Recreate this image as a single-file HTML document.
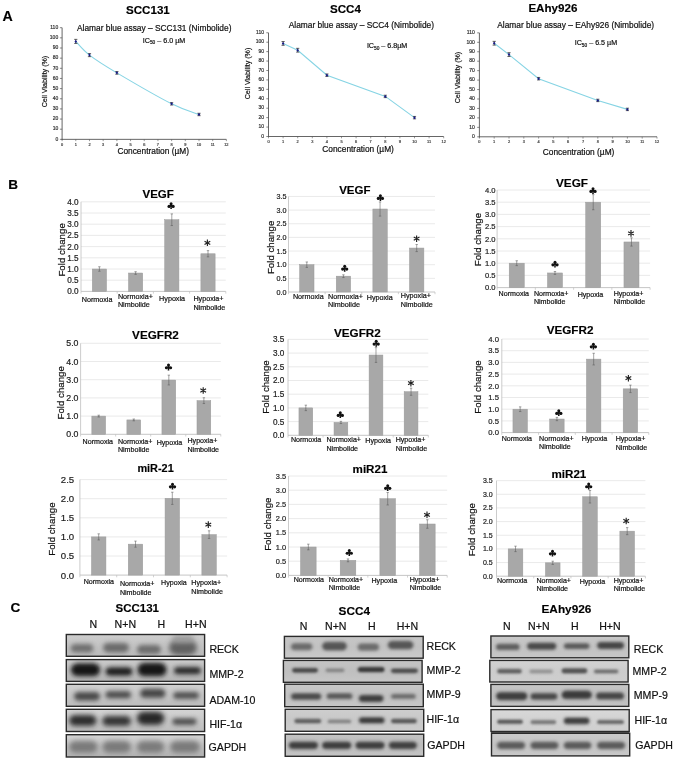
<!DOCTYPE html>
<html><head><meta charset="utf-8"><title>Figure</title>
<style>
html,body{margin:0;padding:0;background:#fff;}
body{width:675px;height:762px;overflow:hidden;}
svg text{font-family:"Liberation Sans",sans-serif;}
svg{will-change:transform}
</style></head>
<body>
<svg width="675" height="762" viewBox="0 0 675 762" style="display:block" font-family="Liberation Sans, sans-serif">
<rect width="675" height="762" fill="#fff"/>
<text x="2.60" y="20.60" font-size="14.2" font-weight="bold" stroke="#000" stroke-width="0.15">A</text>
<defs><filter id="b1" x="-30%" y="-60%" width="160%" height="220%"><feGaussianBlur stdDeviation="1.0"/></filter><filter id="b2" x="-30%" y="-80%" width="160%" height="260%"><feGaussianBlur stdDeviation="1.35"/></filter><filter id="b3" x="-30%" y="-100%" width="160%" height="300%"><feGaussianBlur stdDeviation="1.9"/></filter><filter id="b4" x="-30%" y="-100%" width="160%" height="300%"><feGaussianBlur stdDeviation="2.4"/></filter><linearGradient id="g1" x1="0" y1="0" x2="0" y2="1"><stop offset="0.00" stop-color="#cdcdcd"/><stop offset="0.50" stop-color="#c4c4c4"/><stop offset="1.00" stop-color="#bababa"/></linearGradient><linearGradient id="g2" x1="0" y1="0" x2="0" y2="1"><stop offset="0.00" stop-color="#cacaca"/><stop offset="0.50" stop-color="#bebebe"/><stop offset="1.00" stop-color="#b4b4b4"/></linearGradient><linearGradient id="g3" x1="0" y1="0" x2="0" y2="1"><stop offset="0.00" stop-color="#d0d0d0"/><stop offset="0.50" stop-color="#c6c6c6"/><stop offset="1.00" stop-color="#bcbcbc"/></linearGradient><linearGradient id="g4" x1="0" y1="0" x2="0" y2="1"><stop offset="0.00" stop-color="#d4d4d4"/><stop offset="0.50" stop-color="#c8c8c8"/><stop offset="1.00" stop-color="#bdbdbd"/></linearGradient><linearGradient id="g5" x1="0" y1="0" x2="0" y2="1"><stop offset="0.00" stop-color="#d6d6d6"/><stop offset="0.50" stop-color="#c2c2c2"/><stop offset="1.00" stop-color="#b2b2b2"/></linearGradient><linearGradient id="g6" x1="0" y1="0" x2="0" y2="1"><stop offset="0.00" stop-color="#c6c6c6"/><stop offset="0.50" stop-color="#c2c2c2"/><stop offset="1.00" stop-color="#cacaca"/></linearGradient><linearGradient id="g7" x1="0" y1="0" x2="0" y2="1"><stop offset="0.00" stop-color="#c4c4c4"/><stop offset="0.50" stop-color="#bfbfbf"/><stop offset="1.00" stop-color="#c6c6c6"/></linearGradient><linearGradient id="g8" x1="0" y1="0" x2="0" y2="1"><stop offset="0.00" stop-color="#c8c8c8"/><stop offset="0.50" stop-color="#c0c0c0"/><stop offset="1.00" stop-color="#c6c6c6"/></linearGradient><linearGradient id="g9" x1="0" y1="0" x2="0" y2="1"><stop offset="0.00" stop-color="#cecece"/><stop offset="0.50" stop-color="#c8c8c8"/><stop offset="1.00" stop-color="#cccccc"/></linearGradient><linearGradient id="g10" x1="0" y1="0" x2="0" y2="1"><stop offset="0.00" stop-color="#c4c4c4"/><stop offset="0.50" stop-color="#bcbcbc"/><stop offset="1.00" stop-color="#c4c4c4"/></linearGradient><linearGradient id="g11" x1="0" y1="0" x2="0" y2="1"><stop offset="0.00" stop-color="#c8c8c8"/><stop offset="0.50" stop-color="#c2c2c2"/><stop offset="1.00" stop-color="#c6c6c6"/></linearGradient><linearGradient id="g12" x1="0" y1="0" x2="0" y2="1"><stop offset="0.00" stop-color="#d2d2d2"/><stop offset="0.50" stop-color="#cccccc"/><stop offset="1.00" stop-color="#cecece"/></linearGradient><linearGradient id="g13" x1="0" y1="0" x2="0" y2="1"><stop offset="0.00" stop-color="#c6c6c6"/><stop offset="0.50" stop-color="#bebebe"/><stop offset="1.00" stop-color="#c2c2c2"/></linearGradient><linearGradient id="g14" x1="0" y1="0" x2="0" y2="1"><stop offset="0.00" stop-color="#d8d8d8"/><stop offset="0.50" stop-color="#d2d2d2"/><stop offset="1.00" stop-color="#cfcfcf"/></linearGradient><linearGradient id="g15" x1="0" y1="0" x2="0" y2="1"><stop offset="0.00" stop-color="#cacaca"/><stop offset="0.50" stop-color="#c4c4c4"/><stop offset="1.00" stop-color="#c8c8c8"/></linearGradient></defs>
<text x="8.20" y="188.80" font-size="13.6" font-weight="bold" stroke="#000" stroke-width="0.15">B</text>
<text x="10.60" y="611.60" font-size="13.6" font-weight="bold" stroke="#000" stroke-width="0.15">C</text>
<line x1="62.10" y1="27.70" x2="62.10" y2="139.85" stroke="#555" stroke-width="0.9"/>
<line x1="61.60" y1="139.35" x2="226.38" y2="139.35" stroke="#555" stroke-width="0.9"/>
<line x1="59.90" y1="139.35" x2="62.10" y2="139.35" stroke="#555" stroke-width="0.7"/>
<text x="58.20" y="140.60" font-size="5.0" stroke="#333" stroke-width="0.2" text-anchor="end" fill="#333">0</text>
<line x1="59.90" y1="129.20" x2="62.10" y2="129.20" stroke="#555" stroke-width="0.7"/>
<text x="58.20" y="130.45" font-size="5.0" stroke="#333" stroke-width="0.2" text-anchor="end" fill="#333">10</text>
<line x1="59.90" y1="119.05" x2="62.10" y2="119.05" stroke="#555" stroke-width="0.7"/>
<text x="58.20" y="120.30" font-size="5.0" stroke="#333" stroke-width="0.2" text-anchor="end" fill="#333">20</text>
<line x1="59.90" y1="108.90" x2="62.10" y2="108.90" stroke="#555" stroke-width="0.7"/>
<text x="58.20" y="110.15" font-size="5.0" stroke="#333" stroke-width="0.2" text-anchor="end" fill="#333">30</text>
<line x1="59.90" y1="98.75" x2="62.10" y2="98.75" stroke="#555" stroke-width="0.7"/>
<text x="58.20" y="100.00" font-size="5.0" stroke="#333" stroke-width="0.2" text-anchor="end" fill="#333">40</text>
<line x1="59.90" y1="88.60" x2="62.10" y2="88.60" stroke="#555" stroke-width="0.7"/>
<text x="58.20" y="89.85" font-size="5.0" stroke="#333" stroke-width="0.2" text-anchor="end" fill="#333">50</text>
<line x1="59.90" y1="78.45" x2="62.10" y2="78.45" stroke="#555" stroke-width="0.7"/>
<text x="58.20" y="79.70" font-size="5.0" stroke="#333" stroke-width="0.2" text-anchor="end" fill="#333">60</text>
<line x1="59.90" y1="68.30" x2="62.10" y2="68.30" stroke="#555" stroke-width="0.7"/>
<text x="58.20" y="69.55" font-size="5.0" stroke="#333" stroke-width="0.2" text-anchor="end" fill="#333">70</text>
<line x1="59.90" y1="58.15" x2="62.10" y2="58.15" stroke="#555" stroke-width="0.7"/>
<text x="58.20" y="59.40" font-size="5.0" stroke="#333" stroke-width="0.2" text-anchor="end" fill="#333">80</text>
<line x1="59.90" y1="48.00" x2="62.10" y2="48.00" stroke="#555" stroke-width="0.7"/>
<text x="58.20" y="49.25" font-size="5.0" stroke="#333" stroke-width="0.2" text-anchor="end" fill="#333">90</text>
<line x1="59.90" y1="37.85" x2="62.10" y2="37.85" stroke="#555" stroke-width="0.7"/>
<text x="58.20" y="39.10" font-size="5.0" stroke="#333" stroke-width="0.2" text-anchor="end" fill="#333">100</text>
<line x1="59.90" y1="27.70" x2="62.10" y2="27.70" stroke="#555" stroke-width="0.7"/>
<text x="58.20" y="28.95" font-size="5.0" stroke="#333" stroke-width="0.2" text-anchor="end" fill="#333">110</text>
<line x1="62.10" y1="139.35" x2="62.10" y2="141.15" stroke="#555" stroke-width="0.6"/>
<text x="62.10" y="145.75" font-size="3.9" stroke="#444" stroke-width="0.2" text-anchor="middle" fill="#444">0</text>
<line x1="75.79" y1="139.35" x2="75.79" y2="141.15" stroke="#555" stroke-width="0.6"/>
<text x="75.79" y="145.75" font-size="3.9" stroke="#444" stroke-width="0.2" text-anchor="middle" fill="#444">1</text>
<line x1="89.48" y1="139.35" x2="89.48" y2="141.15" stroke="#555" stroke-width="0.6"/>
<text x="89.48" y="145.75" font-size="3.9" stroke="#444" stroke-width="0.2" text-anchor="middle" fill="#444">2</text>
<line x1="103.17" y1="139.35" x2="103.17" y2="141.15" stroke="#555" stroke-width="0.6"/>
<text x="103.17" y="145.75" font-size="3.9" stroke="#444" stroke-width="0.2" text-anchor="middle" fill="#444">3</text>
<line x1="116.86" y1="139.35" x2="116.86" y2="141.15" stroke="#555" stroke-width="0.6"/>
<text x="116.86" y="145.75" font-size="3.9" stroke="#444" stroke-width="0.2" text-anchor="middle" fill="#444">4</text>
<line x1="130.55" y1="139.35" x2="130.55" y2="141.15" stroke="#555" stroke-width="0.6"/>
<text x="130.55" y="145.75" font-size="3.9" stroke="#444" stroke-width="0.2" text-anchor="middle" fill="#444">5</text>
<line x1="144.24" y1="139.35" x2="144.24" y2="141.15" stroke="#555" stroke-width="0.6"/>
<text x="144.24" y="145.75" font-size="3.9" stroke="#444" stroke-width="0.2" text-anchor="middle" fill="#444">6</text>
<line x1="157.93" y1="139.35" x2="157.93" y2="141.15" stroke="#555" stroke-width="0.6"/>
<text x="157.93" y="145.75" font-size="3.9" stroke="#444" stroke-width="0.2" text-anchor="middle" fill="#444">7</text>
<line x1="171.62" y1="139.35" x2="171.62" y2="141.15" stroke="#555" stroke-width="0.6"/>
<text x="171.62" y="145.75" font-size="3.9" stroke="#444" stroke-width="0.2" text-anchor="middle" fill="#444">8</text>
<line x1="185.31" y1="139.35" x2="185.31" y2="141.15" stroke="#555" stroke-width="0.6"/>
<text x="185.31" y="145.75" font-size="3.9" stroke="#444" stroke-width="0.2" text-anchor="middle" fill="#444">9</text>
<line x1="199.00" y1="139.35" x2="199.00" y2="141.15" stroke="#555" stroke-width="0.6"/>
<text x="199.00" y="145.75" font-size="3.9" stroke="#444" stroke-width="0.2" text-anchor="middle" fill="#444">10</text>
<line x1="212.69" y1="139.35" x2="212.69" y2="141.15" stroke="#555" stroke-width="0.6"/>
<text x="212.69" y="145.75" font-size="3.9" stroke="#444" stroke-width="0.2" text-anchor="middle" fill="#444">11</text>
<line x1="226.38" y1="139.35" x2="226.38" y2="141.15" stroke="#555" stroke-width="0.6"/>
<text x="226.38" y="145.75" font-size="3.9" stroke="#444" stroke-width="0.2" text-anchor="middle" fill="#444">12</text>
<path d="M75.79,41.40 C78.07,43.69 82.64,49.86 89.48,55.11 C96.33,60.35 103.17,64.75 116.86,72.87 C130.55,80.99 157.93,96.89 171.62,103.82 C185.31,110.76 194.44,112.71 199.00,114.48" fill="none" stroke="#86d4e4" stroke-width="1.1"/>
<line x1="75.79" y1="39.37" x2="75.79" y2="43.43" stroke="#222" stroke-width="0.7"/>
<line x1="74.19" y1="39.37" x2="77.39" y2="39.37" stroke="#222" stroke-width="0.7"/>
<line x1="74.19" y1="43.43" x2="77.39" y2="43.43" stroke="#222" stroke-width="0.7"/>
<path d="M75.79,39.90L77.09,41.40L75.79,42.90L74.49,41.40Z" fill="#1b1b8a"/>
<line x1="89.48" y1="53.58" x2="89.48" y2="56.63" stroke="#222" stroke-width="0.7"/>
<line x1="87.88" y1="53.58" x2="91.08" y2="53.58" stroke="#222" stroke-width="0.7"/>
<line x1="87.88" y1="56.63" x2="91.08" y2="56.63" stroke="#222" stroke-width="0.7"/>
<path d="M89.48,53.61L90.78,55.11L89.48,56.61L88.18,55.11Z" fill="#1b1b8a"/>
<line x1="116.86" y1="71.55" x2="116.86" y2="74.19" stroke="#222" stroke-width="0.7"/>
<line x1="115.26" y1="71.55" x2="118.46" y2="71.55" stroke="#222" stroke-width="0.7"/>
<line x1="115.26" y1="74.19" x2="118.46" y2="74.19" stroke="#222" stroke-width="0.7"/>
<path d="M116.86,71.37L118.16,72.87L116.86,74.37L115.56,72.87Z" fill="#1b1b8a"/>
<line x1="171.62" y1="102.62" x2="171.62" y2="105.02" stroke="#222" stroke-width="0.7"/>
<line x1="170.02" y1="102.62" x2="173.22" y2="102.62" stroke="#222" stroke-width="0.7"/>
<line x1="170.02" y1="105.02" x2="173.22" y2="105.02" stroke="#222" stroke-width="0.7"/>
<path d="M171.62,102.32L172.92,103.82L171.62,105.32L170.32,103.82Z" fill="#1b1b8a"/>
<line x1="199.00" y1="113.28" x2="199.00" y2="115.68" stroke="#222" stroke-width="0.7"/>
<line x1="197.40" y1="113.28" x2="200.60" y2="113.28" stroke="#222" stroke-width="0.7"/>
<line x1="197.40" y1="115.68" x2="200.60" y2="115.68" stroke="#222" stroke-width="0.7"/>
<path d="M199.00,112.98L200.30,114.48L199.00,115.98L197.70,114.48Z" fill="#1b1b8a"/>
<text x="126.00" y="14.20" font-size="11.6" font-weight="bold" stroke="#000" stroke-width="0.15">SCC131</text>
<text x="77.00" y="31.20" font-size="8.36" stroke="#111" stroke-width="0.2" fill="#111">Alamar blue assay – SCC131 (Nimbolide)</text>
<text x="142.80" y="42.80" font-size="7.15" fill="#111" stroke="#111" stroke-width="0.2">IC<tspan font-size="4.8" dy="1.6">50</tspan><tspan dy="-1.6"> – 6.0 µM</tspan></text>
<text x="0" y="0" font-size="7.1" stroke="#111" stroke-width="0.2" text-anchor="middle" fill="#111" transform="translate(47.13,81.60) rotate(-90)">Cell Viability (%)</text>
<text x="117.40" y="154.40" font-size="8.35" stroke="#111" stroke-width="0.2" fill="#111">Concentration (µM)</text>
<line x1="268.50" y1="32.77" x2="268.50" y2="137.00" stroke="#555" stroke-width="0.9"/>
<line x1="268.00" y1="136.50" x2="443.70" y2="136.50" stroke="#555" stroke-width="0.9"/>
<line x1="266.30" y1="136.50" x2="268.50" y2="136.50" stroke="#555" stroke-width="0.7"/>
<text x="264.00" y="137.75" font-size="5.0" stroke="#333" stroke-width="0.2" text-anchor="end" fill="#333">0</text>
<line x1="266.30" y1="127.07" x2="268.50" y2="127.07" stroke="#555" stroke-width="0.7"/>
<text x="264.00" y="128.32" font-size="5.0" stroke="#333" stroke-width="0.2" text-anchor="end" fill="#333">10</text>
<line x1="266.30" y1="117.64" x2="268.50" y2="117.64" stroke="#555" stroke-width="0.7"/>
<text x="264.00" y="118.89" font-size="5.0" stroke="#333" stroke-width="0.2" text-anchor="end" fill="#333">20</text>
<line x1="266.30" y1="108.21" x2="268.50" y2="108.21" stroke="#555" stroke-width="0.7"/>
<text x="264.00" y="109.46" font-size="5.0" stroke="#333" stroke-width="0.2" text-anchor="end" fill="#333">30</text>
<line x1="266.30" y1="98.78" x2="268.50" y2="98.78" stroke="#555" stroke-width="0.7"/>
<text x="264.00" y="100.03" font-size="5.0" stroke="#333" stroke-width="0.2" text-anchor="end" fill="#333">40</text>
<line x1="266.30" y1="89.35" x2="268.50" y2="89.35" stroke="#555" stroke-width="0.7"/>
<text x="264.00" y="90.60" font-size="5.0" stroke="#333" stroke-width="0.2" text-anchor="end" fill="#333">50</text>
<line x1="266.30" y1="79.92" x2="268.50" y2="79.92" stroke="#555" stroke-width="0.7"/>
<text x="264.00" y="81.17" font-size="5.0" stroke="#333" stroke-width="0.2" text-anchor="end" fill="#333">60</text>
<line x1="266.30" y1="70.49" x2="268.50" y2="70.49" stroke="#555" stroke-width="0.7"/>
<text x="264.00" y="71.74" font-size="5.0" stroke="#333" stroke-width="0.2" text-anchor="end" fill="#333">70</text>
<line x1="266.30" y1="61.06" x2="268.50" y2="61.06" stroke="#555" stroke-width="0.7"/>
<text x="264.00" y="62.31" font-size="5.0" stroke="#333" stroke-width="0.2" text-anchor="end" fill="#333">80</text>
<line x1="266.30" y1="51.63" x2="268.50" y2="51.63" stroke="#555" stroke-width="0.7"/>
<text x="264.00" y="52.88" font-size="5.0" stroke="#333" stroke-width="0.2" text-anchor="end" fill="#333">90</text>
<line x1="266.30" y1="42.20" x2="268.50" y2="42.20" stroke="#555" stroke-width="0.7"/>
<text x="264.00" y="43.45" font-size="5.0" stroke="#333" stroke-width="0.2" text-anchor="end" fill="#333">100</text>
<line x1="266.30" y1="32.77" x2="268.50" y2="32.77" stroke="#555" stroke-width="0.7"/>
<text x="264.00" y="34.02" font-size="5.0" stroke="#333" stroke-width="0.2" text-anchor="end" fill="#333">110</text>
<line x1="268.50" y1="136.50" x2="268.50" y2="138.30" stroke="#555" stroke-width="0.6"/>
<text x="268.50" y="142.90" font-size="3.9" stroke="#444" stroke-width="0.2" text-anchor="middle" fill="#444">0</text>
<line x1="283.10" y1="136.50" x2="283.10" y2="138.30" stroke="#555" stroke-width="0.6"/>
<text x="283.10" y="142.90" font-size="3.9" stroke="#444" stroke-width="0.2" text-anchor="middle" fill="#444">1</text>
<line x1="297.70" y1="136.50" x2="297.70" y2="138.30" stroke="#555" stroke-width="0.6"/>
<text x="297.70" y="142.90" font-size="3.9" stroke="#444" stroke-width="0.2" text-anchor="middle" fill="#444">2</text>
<line x1="312.30" y1="136.50" x2="312.30" y2="138.30" stroke="#555" stroke-width="0.6"/>
<text x="312.30" y="142.90" font-size="3.9" stroke="#444" stroke-width="0.2" text-anchor="middle" fill="#444">3</text>
<line x1="326.90" y1="136.50" x2="326.90" y2="138.30" stroke="#555" stroke-width="0.6"/>
<text x="326.90" y="142.90" font-size="3.9" stroke="#444" stroke-width="0.2" text-anchor="middle" fill="#444">4</text>
<line x1="341.50" y1="136.50" x2="341.50" y2="138.30" stroke="#555" stroke-width="0.6"/>
<text x="341.50" y="142.90" font-size="3.9" stroke="#444" stroke-width="0.2" text-anchor="middle" fill="#444">5</text>
<line x1="356.10" y1="136.50" x2="356.10" y2="138.30" stroke="#555" stroke-width="0.6"/>
<text x="356.10" y="142.90" font-size="3.9" stroke="#444" stroke-width="0.2" text-anchor="middle" fill="#444">6</text>
<line x1="370.70" y1="136.50" x2="370.70" y2="138.30" stroke="#555" stroke-width="0.6"/>
<text x="370.70" y="142.90" font-size="3.9" stroke="#444" stroke-width="0.2" text-anchor="middle" fill="#444">7</text>
<line x1="385.30" y1="136.50" x2="385.30" y2="138.30" stroke="#555" stroke-width="0.6"/>
<text x="385.30" y="142.90" font-size="3.9" stroke="#444" stroke-width="0.2" text-anchor="middle" fill="#444">8</text>
<line x1="399.90" y1="136.50" x2="399.90" y2="138.30" stroke="#555" stroke-width="0.6"/>
<text x="399.90" y="142.90" font-size="3.9" stroke="#444" stroke-width="0.2" text-anchor="middle" fill="#444">9</text>
<line x1="414.50" y1="136.50" x2="414.50" y2="138.30" stroke="#555" stroke-width="0.6"/>
<text x="414.50" y="142.90" font-size="3.9" stroke="#444" stroke-width="0.2" text-anchor="middle" fill="#444">10</text>
<line x1="429.10" y1="136.50" x2="429.10" y2="138.30" stroke="#555" stroke-width="0.6"/>
<text x="429.10" y="142.90" font-size="3.9" stroke="#444" stroke-width="0.2" text-anchor="middle" fill="#444">11</text>
<line x1="443.70" y1="136.50" x2="443.70" y2="138.30" stroke="#555" stroke-width="0.6"/>
<text x="443.70" y="142.90" font-size="3.9" stroke="#444" stroke-width="0.2" text-anchor="middle" fill="#444">12</text>
<polyline points="283.10,43.43 297.70,50.22 326.90,75.21 385.30,96.42 414.50,117.64" fill="none" stroke="#86d4e4" stroke-width="1.1"/>
<line x1="283.10" y1="41.54" x2="283.10" y2="45.31" stroke="#222" stroke-width="0.7"/>
<line x1="281.50" y1="41.54" x2="284.70" y2="41.54" stroke="#222" stroke-width="0.7"/>
<line x1="281.50" y1="45.31" x2="284.70" y2="45.31" stroke="#222" stroke-width="0.7"/>
<path d="M283.10,41.93L284.40,43.43L283.10,44.93L281.80,43.43Z" fill="#1b1b8a"/>
<line x1="297.70" y1="48.33" x2="297.70" y2="52.10" stroke="#222" stroke-width="0.7"/>
<line x1="296.10" y1="48.33" x2="299.30" y2="48.33" stroke="#222" stroke-width="0.7"/>
<line x1="296.10" y1="52.10" x2="299.30" y2="52.10" stroke="#222" stroke-width="0.7"/>
<path d="M297.70,48.72L299.00,50.22L297.70,51.72L296.40,50.22Z" fill="#1b1b8a"/>
<line x1="326.90" y1="73.98" x2="326.90" y2="76.43" stroke="#222" stroke-width="0.7"/>
<line x1="325.30" y1="73.98" x2="328.50" y2="73.98" stroke="#222" stroke-width="0.7"/>
<line x1="325.30" y1="76.43" x2="328.50" y2="76.43" stroke="#222" stroke-width="0.7"/>
<path d="M326.90,73.71L328.20,75.21L326.90,76.71L325.60,75.21Z" fill="#1b1b8a"/>
<line x1="385.30" y1="95.22" x2="385.30" y2="97.62" stroke="#222" stroke-width="0.7"/>
<line x1="383.70" y1="95.22" x2="386.90" y2="95.22" stroke="#222" stroke-width="0.7"/>
<line x1="383.70" y1="97.62" x2="386.90" y2="97.62" stroke="#222" stroke-width="0.7"/>
<path d="M385.30,94.92L386.60,96.42L385.30,97.92L384.00,96.42Z" fill="#1b1b8a"/>
<line x1="414.50" y1="116.44" x2="414.50" y2="118.84" stroke="#222" stroke-width="0.7"/>
<line x1="412.90" y1="116.44" x2="416.10" y2="116.44" stroke="#222" stroke-width="0.7"/>
<line x1="412.90" y1="118.84" x2="416.10" y2="118.84" stroke="#222" stroke-width="0.7"/>
<path d="M414.50,116.14L415.80,117.64L414.50,119.14L413.20,117.64Z" fill="#1b1b8a"/>
<text x="330.00" y="13.00" font-size="11.6" font-weight="bold" stroke="#000" stroke-width="0.15">SCC4</text>
<text x="288.80" y="28.20" font-size="8.36" stroke="#111" stroke-width="0.2" fill="#111">Alamar blue assay – SCC4 (Nimbolide)</text>
<text x="366.90" y="48.10" font-size="7.15" fill="#111" stroke="#111" stroke-width="0.2">IC<tspan font-size="4.8" dy="1.6">50</tspan><tspan dy="-1.6"> – 6.8µM</tspan></text>
<text x="0" y="0" font-size="7.1" stroke="#111" stroke-width="0.2" text-anchor="middle" fill="#111" transform="translate(250.03,73.50) rotate(-90)">Cell Viability (%)</text>
<text x="322.30" y="152.40" font-size="8.35" stroke="#111" stroke-width="0.2" fill="#111">Concentration (µM)</text>
<line x1="479.40" y1="32.85" x2="479.40" y2="137.30" stroke="#555" stroke-width="0.9"/>
<line x1="478.90" y1="136.80" x2="657.00" y2="136.80" stroke="#555" stroke-width="0.9"/>
<line x1="477.20" y1="136.80" x2="479.40" y2="136.80" stroke="#555" stroke-width="0.7"/>
<text x="474.80" y="138.05" font-size="5.0" stroke="#333" stroke-width="0.2" text-anchor="end" fill="#333">0</text>
<line x1="477.20" y1="127.35" x2="479.40" y2="127.35" stroke="#555" stroke-width="0.7"/>
<text x="474.80" y="128.60" font-size="5.0" stroke="#333" stroke-width="0.2" text-anchor="end" fill="#333">10</text>
<line x1="477.20" y1="117.90" x2="479.40" y2="117.90" stroke="#555" stroke-width="0.7"/>
<text x="474.80" y="119.15" font-size="5.0" stroke="#333" stroke-width="0.2" text-anchor="end" fill="#333">20</text>
<line x1="477.20" y1="108.45" x2="479.40" y2="108.45" stroke="#555" stroke-width="0.7"/>
<text x="474.80" y="109.70" font-size="5.0" stroke="#333" stroke-width="0.2" text-anchor="end" fill="#333">30</text>
<line x1="477.20" y1="99.00" x2="479.40" y2="99.00" stroke="#555" stroke-width="0.7"/>
<text x="474.80" y="100.25" font-size="5.0" stroke="#333" stroke-width="0.2" text-anchor="end" fill="#333">40</text>
<line x1="477.20" y1="89.55" x2="479.40" y2="89.55" stroke="#555" stroke-width="0.7"/>
<text x="474.80" y="90.80" font-size="5.0" stroke="#333" stroke-width="0.2" text-anchor="end" fill="#333">50</text>
<line x1="477.20" y1="80.10" x2="479.40" y2="80.10" stroke="#555" stroke-width="0.7"/>
<text x="474.80" y="81.35" font-size="5.0" stroke="#333" stroke-width="0.2" text-anchor="end" fill="#333">60</text>
<line x1="477.20" y1="70.65" x2="479.40" y2="70.65" stroke="#555" stroke-width="0.7"/>
<text x="474.80" y="71.90" font-size="5.0" stroke="#333" stroke-width="0.2" text-anchor="end" fill="#333">70</text>
<line x1="477.20" y1="61.20" x2="479.40" y2="61.20" stroke="#555" stroke-width="0.7"/>
<text x="474.80" y="62.45" font-size="5.0" stroke="#333" stroke-width="0.2" text-anchor="end" fill="#333">80</text>
<line x1="477.20" y1="51.75" x2="479.40" y2="51.75" stroke="#555" stroke-width="0.7"/>
<text x="474.80" y="53.00" font-size="5.0" stroke="#333" stroke-width="0.2" text-anchor="end" fill="#333">90</text>
<line x1="477.20" y1="42.30" x2="479.40" y2="42.30" stroke="#555" stroke-width="0.7"/>
<text x="474.80" y="43.55" font-size="5.0" stroke="#333" stroke-width="0.2" text-anchor="end" fill="#333">100</text>
<line x1="477.20" y1="32.85" x2="479.40" y2="32.85" stroke="#555" stroke-width="0.7"/>
<text x="474.80" y="34.10" font-size="5.0" stroke="#333" stroke-width="0.2" text-anchor="end" fill="#333">110</text>
<line x1="479.40" y1="136.80" x2="479.40" y2="138.60" stroke="#555" stroke-width="0.6"/>
<text x="479.40" y="143.20" font-size="3.9" stroke="#444" stroke-width="0.2" text-anchor="middle" fill="#444">0</text>
<line x1="494.20" y1="136.80" x2="494.20" y2="138.60" stroke="#555" stroke-width="0.6"/>
<text x="494.20" y="143.20" font-size="3.9" stroke="#444" stroke-width="0.2" text-anchor="middle" fill="#444">1</text>
<line x1="509.00" y1="136.80" x2="509.00" y2="138.60" stroke="#555" stroke-width="0.6"/>
<text x="509.00" y="143.20" font-size="3.9" stroke="#444" stroke-width="0.2" text-anchor="middle" fill="#444">2</text>
<line x1="523.80" y1="136.80" x2="523.80" y2="138.60" stroke="#555" stroke-width="0.6"/>
<text x="523.80" y="143.20" font-size="3.9" stroke="#444" stroke-width="0.2" text-anchor="middle" fill="#444">3</text>
<line x1="538.60" y1="136.80" x2="538.60" y2="138.60" stroke="#555" stroke-width="0.6"/>
<text x="538.60" y="143.20" font-size="3.9" stroke="#444" stroke-width="0.2" text-anchor="middle" fill="#444">4</text>
<line x1="553.40" y1="136.80" x2="553.40" y2="138.60" stroke="#555" stroke-width="0.6"/>
<text x="553.40" y="143.20" font-size="3.9" stroke="#444" stroke-width="0.2" text-anchor="middle" fill="#444">5</text>
<line x1="568.20" y1="136.80" x2="568.20" y2="138.60" stroke="#555" stroke-width="0.6"/>
<text x="568.20" y="143.20" font-size="3.9" stroke="#444" stroke-width="0.2" text-anchor="middle" fill="#444">6</text>
<line x1="583.00" y1="136.80" x2="583.00" y2="138.60" stroke="#555" stroke-width="0.6"/>
<text x="583.00" y="143.20" font-size="3.9" stroke="#444" stroke-width="0.2" text-anchor="middle" fill="#444">7</text>
<line x1="597.80" y1="136.80" x2="597.80" y2="138.60" stroke="#555" stroke-width="0.6"/>
<text x="597.80" y="143.20" font-size="3.9" stroke="#444" stroke-width="0.2" text-anchor="middle" fill="#444">8</text>
<line x1="612.60" y1="136.80" x2="612.60" y2="138.60" stroke="#555" stroke-width="0.6"/>
<text x="612.60" y="143.20" font-size="3.9" stroke="#444" stroke-width="0.2" text-anchor="middle" fill="#444">9</text>
<line x1="627.40" y1="136.80" x2="627.40" y2="138.60" stroke="#555" stroke-width="0.6"/>
<text x="627.40" y="143.20" font-size="3.9" stroke="#444" stroke-width="0.2" text-anchor="middle" fill="#444">10</text>
<line x1="642.20" y1="136.80" x2="642.20" y2="138.60" stroke="#555" stroke-width="0.6"/>
<text x="642.20" y="143.20" font-size="3.9" stroke="#444" stroke-width="0.2" text-anchor="middle" fill="#444">11</text>
<line x1="657.00" y1="136.80" x2="657.00" y2="138.60" stroke="#555" stroke-width="0.6"/>
<text x="657.00" y="143.20" font-size="3.9" stroke="#444" stroke-width="0.2" text-anchor="middle" fill="#444">12</text>
<polyline points="494.20,43.25 509.00,54.59 538.60,78.68 597.80,100.42 627.40,109.40" fill="none" stroke="#86d4e4" stroke-width="1.1"/>
<line x1="494.20" y1="41.36" x2="494.20" y2="45.14" stroke="#222" stroke-width="0.7"/>
<line x1="492.60" y1="41.36" x2="495.80" y2="41.36" stroke="#222" stroke-width="0.7"/>
<line x1="492.60" y1="45.14" x2="495.80" y2="45.14" stroke="#222" stroke-width="0.7"/>
<path d="M494.20,41.75L495.50,43.25L494.20,44.75L492.90,43.25Z" fill="#1b1b8a"/>
<line x1="509.00" y1="52.70" x2="509.00" y2="56.48" stroke="#222" stroke-width="0.7"/>
<line x1="507.40" y1="52.70" x2="510.60" y2="52.70" stroke="#222" stroke-width="0.7"/>
<line x1="507.40" y1="56.48" x2="510.60" y2="56.48" stroke="#222" stroke-width="0.7"/>
<path d="M509.00,53.09L510.30,54.59L509.00,56.09L507.70,54.59Z" fill="#1b1b8a"/>
<line x1="538.60" y1="77.45" x2="538.60" y2="79.91" stroke="#222" stroke-width="0.7"/>
<line x1="537.00" y1="77.45" x2="540.20" y2="77.45" stroke="#222" stroke-width="0.7"/>
<line x1="537.00" y1="79.91" x2="540.20" y2="79.91" stroke="#222" stroke-width="0.7"/>
<path d="M538.60,77.18L539.90,78.68L538.60,80.18L537.30,78.68Z" fill="#1b1b8a"/>
<line x1="597.80" y1="99.22" x2="597.80" y2="101.62" stroke="#222" stroke-width="0.7"/>
<line x1="596.20" y1="99.22" x2="599.40" y2="99.22" stroke="#222" stroke-width="0.7"/>
<line x1="596.20" y1="101.62" x2="599.40" y2="101.62" stroke="#222" stroke-width="0.7"/>
<path d="M597.80,98.92L599.10,100.42L597.80,101.92L596.50,100.42Z" fill="#1b1b8a"/>
<line x1="627.40" y1="108.20" x2="627.40" y2="110.60" stroke="#222" stroke-width="0.7"/>
<line x1="625.80" y1="108.20" x2="629.00" y2="108.20" stroke="#222" stroke-width="0.7"/>
<line x1="625.80" y1="110.60" x2="629.00" y2="110.60" stroke="#222" stroke-width="0.7"/>
<path d="M627.40,107.90L628.70,109.40L627.40,110.90L626.10,109.40Z" fill="#1b1b8a"/>
<text x="528.40" y="12.20" font-size="11.6" font-weight="bold" stroke="#000" stroke-width="0.15">EAhy926</text>
<text x="497.30" y="28.20" font-size="8.36" stroke="#111" stroke-width="0.2" fill="#111">Alamar blue assay – EAhy926 (Nimbolide)</text>
<text x="574.70" y="45.40" font-size="7.15" fill="#111" stroke="#111" stroke-width="0.2">IC<tspan font-size="4.8" dy="1.6">50</tspan><tspan dy="-1.6"> – 6.5 µM</tspan></text>
<text x="0" y="0" font-size="7.1" stroke="#111" stroke-width="0.2" text-anchor="middle" fill="#111" transform="translate(459.73,77.60) rotate(-90)">Cell Viability (%)</text>
<text x="542.80" y="155.30" font-size="8.35" stroke="#111" stroke-width="0.2" fill="#111">Concentration (µM)</text>
<text x="78.60" y="294.35" font-size="8.2" stroke="#222" stroke-width="0.2" text-anchor="end" fill="#222">0.0</text>
<line x1="81.00" y1="280.20" x2="225.80" y2="280.20" stroke="#e5e5e5" stroke-width="0.8"/>
<text x="78.60" y="283.15" font-size="8.2" stroke="#222" stroke-width="0.2" text-anchor="end" fill="#222">0.5</text>
<line x1="81.00" y1="269.00" x2="225.80" y2="269.00" stroke="#e5e5e5" stroke-width="0.8"/>
<text x="78.60" y="271.95" font-size="8.2" stroke="#222" stroke-width="0.2" text-anchor="end" fill="#222">1.0</text>
<line x1="81.00" y1="257.80" x2="225.80" y2="257.80" stroke="#e5e5e5" stroke-width="0.8"/>
<text x="78.60" y="260.75" font-size="8.2" stroke="#222" stroke-width="0.2" text-anchor="end" fill="#222">1.5</text>
<line x1="81.00" y1="246.60" x2="225.80" y2="246.60" stroke="#e5e5e5" stroke-width="0.8"/>
<text x="78.60" y="249.55" font-size="8.2" stroke="#222" stroke-width="0.2" text-anchor="end" fill="#222">2.0</text>
<line x1="81.00" y1="235.40" x2="225.80" y2="235.40" stroke="#e5e5e5" stroke-width="0.8"/>
<text x="78.60" y="238.35" font-size="8.2" stroke="#222" stroke-width="0.2" text-anchor="end" fill="#222">2.5</text>
<line x1="81.00" y1="224.20" x2="225.80" y2="224.20" stroke="#e5e5e5" stroke-width="0.8"/>
<text x="78.60" y="227.15" font-size="8.2" stroke="#222" stroke-width="0.2" text-anchor="end" fill="#222">3.0</text>
<line x1="81.00" y1="213.00" x2="225.80" y2="213.00" stroke="#e5e5e5" stroke-width="0.8"/>
<text x="78.60" y="215.95" font-size="8.2" stroke="#222" stroke-width="0.2" text-anchor="end" fill="#222">3.5</text>
<line x1="81.00" y1="201.80" x2="225.80" y2="201.80" stroke="#e5e5e5" stroke-width="0.8"/>
<text x="78.60" y="204.75" font-size="8.2" stroke="#222" stroke-width="0.2" text-anchor="end" fill="#222">4.0</text>
<line x1="81.00" y1="201.80" x2="81.00" y2="291.40" stroke="#bfbfbf" stroke-width="0.8"/>
<line x1="81.00" y1="291.40" x2="225.80" y2="291.40" stroke="#bfbfbf" stroke-width="0.9"/>
<line x1="81.00" y1="291.40" x2="81.00" y2="293.60" stroke="#bfbfbf" stroke-width="0.7"/>
<line x1="117.20" y1="291.40" x2="117.20" y2="293.60" stroke="#bfbfbf" stroke-width="0.7"/>
<line x1="153.40" y1="291.40" x2="153.40" y2="293.60" stroke="#bfbfbf" stroke-width="0.7"/>
<line x1="189.60" y1="291.40" x2="189.60" y2="293.60" stroke="#bfbfbf" stroke-width="0.7"/>
<line x1="225.80" y1="291.40" x2="225.80" y2="293.60" stroke="#bfbfbf" stroke-width="0.7"/>
<rect x="92.29" y="269.00" width="14.23" height="22.40" fill="#a8a8a8" stroke="#9a9a9a" stroke-width="0.5"/>
<line x1="99.40" y1="266.76" x2="99.40" y2="271.24" stroke="#5a5a5a" stroke-width="0.55"/>
<line x1="98.20" y1="266.76" x2="100.60" y2="266.76" stroke="#5a5a5a" stroke-width="0.55"/>
<line x1="98.20" y1="271.24" x2="100.60" y2="271.24" stroke="#5a5a5a" stroke-width="0.55"/>
<rect x="128.49" y="273.03" width="14.23" height="18.37" fill="#a8a8a8" stroke="#9a9a9a" stroke-width="0.5"/>
<line x1="135.60" y1="271.69" x2="135.60" y2="274.38" stroke="#5a5a5a" stroke-width="0.55"/>
<line x1="134.40" y1="271.69" x2="136.80" y2="271.69" stroke="#5a5a5a" stroke-width="0.55"/>
<line x1="134.40" y1="274.38" x2="136.80" y2="274.38" stroke="#5a5a5a" stroke-width="0.55"/>
<rect x="164.69" y="219.72" width="14.23" height="71.68" fill="#a8a8a8" stroke="#9a9a9a" stroke-width="0.5"/>
<line x1="171.80" y1="213.90" x2="171.80" y2="225.54" stroke="#5a5a5a" stroke-width="0.55"/>
<line x1="170.60" y1="213.90" x2="173.00" y2="213.90" stroke="#5a5a5a" stroke-width="0.55"/>
<line x1="170.60" y1="225.54" x2="173.00" y2="225.54" stroke="#5a5a5a" stroke-width="0.55"/>
<rect x="200.89" y="253.77" width="14.23" height="37.63" fill="#a8a8a8" stroke="#9a9a9a" stroke-width="0.5"/>
<line x1="208.00" y1="250.63" x2="208.00" y2="256.90" stroke="#5a5a5a" stroke-width="0.55"/>
<line x1="206.80" y1="250.63" x2="209.20" y2="250.63" stroke="#5a5a5a" stroke-width="0.55"/>
<line x1="206.80" y1="256.90" x2="209.20" y2="256.90" stroke="#5a5a5a" stroke-width="0.55"/>
<g fill="#111"><circle cx="171.10" cy="203.75" r="1.50"/><circle cx="169.05" cy="206.45" r="1.60"/><circle cx="173.15" cy="206.45" r="1.60"/><circle cx="171.10" cy="205.70" r="1.20"/><path d="M170.70,205.30 L171.50,205.30 L171.95,209.10 L170.25,209.10Z"/></g>
<path d="M207.40,239.50L207.40,246.10M204.54,241.15L210.26,244.45M204.54,244.45L210.26,241.15" stroke="#222" stroke-width="1.15" fill="none"/>
<text x="142.50" y="198.30" font-size="11.5" font-weight="bold" stroke="#000" stroke-width="0.15">VEGF</text>
<text x="0" y="0" font-size="9.7" stroke="#111" stroke-width="0.2" text-anchor="middle" fill="#111" transform="translate(65.31,249.90) rotate(-90)">Fold change</text>
<text x="81.70" y="301.80" font-size="7.2" stroke="#111" stroke-width="0.2" fill="#111">Normoxia</text>
<text x="117.90" y="299.10" font-size="7.2" stroke="#111" stroke-width="0.2" fill="#111">Normoxia+</text>
<text x="117.90" y="307.40" font-size="7.2" stroke="#111" stroke-width="0.2" fill="#111">Nimbolide</text>
<text x="159.10" y="301.10" font-size="7.2" stroke="#111" stroke-width="0.2" fill="#111">Hypoxia</text>
<text x="193.40" y="301.10" font-size="7.2" stroke="#111" stroke-width="0.2" fill="#111">Hypoxia+</text>
<text x="193.40" y="310.30" font-size="7.2" stroke="#111" stroke-width="0.2" fill="#111">Nimbolide</text>
<text x="286.60" y="294.59" font-size="7.2" stroke="#222" stroke-width="0.2" text-anchor="end" fill="#222">0.0</text>
<line x1="288.50" y1="278.35" x2="435.00" y2="278.35" stroke="#e5e5e5" stroke-width="0.8"/>
<text x="286.60" y="280.94" font-size="7.2" stroke="#222" stroke-width="0.2" text-anchor="end" fill="#222">0.5</text>
<line x1="288.50" y1="264.70" x2="435.00" y2="264.70" stroke="#e5e5e5" stroke-width="0.8"/>
<text x="286.60" y="267.29" font-size="7.2" stroke="#222" stroke-width="0.2" text-anchor="end" fill="#222">1.0</text>
<line x1="288.50" y1="251.05" x2="435.00" y2="251.05" stroke="#e5e5e5" stroke-width="0.8"/>
<text x="286.60" y="253.64" font-size="7.2" stroke="#222" stroke-width="0.2" text-anchor="end" fill="#222">1.5</text>
<line x1="288.50" y1="237.40" x2="435.00" y2="237.40" stroke="#e5e5e5" stroke-width="0.8"/>
<text x="286.60" y="239.99" font-size="7.2" stroke="#222" stroke-width="0.2" text-anchor="end" fill="#222">2.0</text>
<line x1="288.50" y1="223.75" x2="435.00" y2="223.75" stroke="#e5e5e5" stroke-width="0.8"/>
<text x="286.60" y="226.34" font-size="7.2" stroke="#222" stroke-width="0.2" text-anchor="end" fill="#222">2.5</text>
<line x1="288.50" y1="210.10" x2="435.00" y2="210.10" stroke="#e5e5e5" stroke-width="0.8"/>
<text x="286.60" y="212.69" font-size="7.2" stroke="#222" stroke-width="0.2" text-anchor="end" fill="#222">3.0</text>
<line x1="288.50" y1="196.45" x2="435.00" y2="196.45" stroke="#e5e5e5" stroke-width="0.8"/>
<text x="286.60" y="199.04" font-size="7.2" stroke="#222" stroke-width="0.2" text-anchor="end" fill="#222">3.5</text>
<line x1="288.50" y1="196.45" x2="288.50" y2="292.00" stroke="#bfbfbf" stroke-width="0.8"/>
<line x1="288.50" y1="292.00" x2="435.00" y2="292.00" stroke="#bfbfbf" stroke-width="0.9"/>
<line x1="288.50" y1="292.00" x2="288.50" y2="294.20" stroke="#bfbfbf" stroke-width="0.7"/>
<line x1="325.12" y1="292.00" x2="325.12" y2="294.20" stroke="#bfbfbf" stroke-width="0.7"/>
<line x1="361.75" y1="292.00" x2="361.75" y2="294.20" stroke="#bfbfbf" stroke-width="0.7"/>
<line x1="398.38" y1="292.00" x2="398.38" y2="294.20" stroke="#bfbfbf" stroke-width="0.7"/>
<line x1="435.00" y1="292.00" x2="435.00" y2="294.20" stroke="#bfbfbf" stroke-width="0.7"/>
<rect x="299.62" y="264.70" width="14.39" height="27.30" fill="#a8a8a8" stroke="#9a9a9a" stroke-width="0.5"/>
<line x1="306.81" y1="261.97" x2="306.81" y2="267.43" stroke="#5a5a5a" stroke-width="0.55"/>
<line x1="305.61" y1="261.97" x2="308.01" y2="261.97" stroke="#5a5a5a" stroke-width="0.55"/>
<line x1="305.61" y1="267.43" x2="308.01" y2="267.43" stroke="#5a5a5a" stroke-width="0.55"/>
<rect x="336.24" y="276.17" width="14.39" height="15.83" fill="#a8a8a8" stroke="#9a9a9a" stroke-width="0.5"/>
<line x1="343.44" y1="274.80" x2="343.44" y2="277.53" stroke="#5a5a5a" stroke-width="0.55"/>
<line x1="342.24" y1="274.80" x2="344.64" y2="274.80" stroke="#5a5a5a" stroke-width="0.55"/>
<line x1="342.24" y1="277.53" x2="344.64" y2="277.53" stroke="#5a5a5a" stroke-width="0.55"/>
<rect x="372.87" y="209.01" width="14.39" height="82.99" fill="#a8a8a8" stroke="#9a9a9a" stroke-width="0.5"/>
<line x1="380.06" y1="201.91" x2="380.06" y2="216.11" stroke="#5a5a5a" stroke-width="0.55"/>
<line x1="378.86" y1="201.91" x2="381.26" y2="201.91" stroke="#5a5a5a" stroke-width="0.55"/>
<line x1="378.86" y1="216.11" x2="381.26" y2="216.11" stroke="#5a5a5a" stroke-width="0.55"/>
<rect x="409.49" y="248.05" width="14.39" height="43.95" fill="#a8a8a8" stroke="#9a9a9a" stroke-width="0.5"/>
<line x1="416.69" y1="244.50" x2="416.69" y2="251.60" stroke="#5a5a5a" stroke-width="0.55"/>
<line x1="415.49" y1="244.50" x2="417.89" y2="244.50" stroke="#5a5a5a" stroke-width="0.55"/>
<line x1="415.49" y1="251.60" x2="417.89" y2="251.60" stroke="#5a5a5a" stroke-width="0.55"/>
<g fill="#111"><circle cx="344.70" cy="266.35" r="1.50"/><circle cx="342.65" cy="269.05" r="1.60"/><circle cx="346.75" cy="269.05" r="1.60"/><circle cx="344.70" cy="268.30" r="1.20"/><path d="M344.30,267.90 L345.10,267.90 L345.55,271.70 L343.85,271.70Z"/></g>
<g fill="#111"><circle cx="380.40" cy="195.75" r="1.50"/><circle cx="378.35" cy="198.45" r="1.60"/><circle cx="382.45" cy="198.45" r="1.60"/><circle cx="380.40" cy="197.70" r="1.20"/><path d="M380.00,197.30 L380.80,197.30 L381.25,201.10 L379.55,201.10Z"/></g>
<path d="M416.60,235.40L416.60,242.00M413.74,237.05L419.46,240.35M413.74,240.35L419.46,237.05" stroke="#222" stroke-width="1.15" fill="none"/>
<text x="339.20" y="194.00" font-size="11.5" font-weight="bold" stroke="#000" stroke-width="0.15">VEGF</text>
<text x="0" y="0" font-size="9.7" stroke="#111" stroke-width="0.2" text-anchor="middle" fill="#111" transform="translate(274.41,247.40) rotate(-90)">Fold change</text>
<text x="292.90" y="298.50" font-size="7.2" stroke="#111" stroke-width="0.2" fill="#111">Normoxia</text>
<text x="328.00" y="298.50" font-size="7.2" stroke="#111" stroke-width="0.2" fill="#111">Normoxia+</text>
<text x="328.00" y="306.60" font-size="7.2" stroke="#111" stroke-width="0.2" fill="#111">Nimbolide</text>
<text x="366.70" y="299.50" font-size="7.2" stroke="#111" stroke-width="0.2" fill="#111">Hypoxia</text>
<text x="400.80" y="298.10" font-size="7.2" stroke="#111" stroke-width="0.2" fill="#111">Hypoxia+</text>
<text x="400.80" y="306.90" font-size="7.2" stroke="#111" stroke-width="0.2" fill="#111">Nimbolide</text>
<text x="495.50" y="290.34" font-size="7.6" stroke="#222" stroke-width="0.2" text-anchor="end" fill="#222">0.0</text>
<line x1="497.10" y1="275.40" x2="650.10" y2="275.40" stroke="#e5e5e5" stroke-width="0.8"/>
<text x="495.50" y="278.14" font-size="7.6" stroke="#222" stroke-width="0.2" text-anchor="end" fill="#222">0.5</text>
<line x1="497.10" y1="263.20" x2="650.10" y2="263.20" stroke="#e5e5e5" stroke-width="0.8"/>
<text x="495.50" y="265.94" font-size="7.6" stroke="#222" stroke-width="0.2" text-anchor="end" fill="#222">1.0</text>
<line x1="497.10" y1="251.00" x2="650.10" y2="251.00" stroke="#e5e5e5" stroke-width="0.8"/>
<text x="495.50" y="253.74" font-size="7.6" stroke="#222" stroke-width="0.2" text-anchor="end" fill="#222">1.5</text>
<line x1="497.10" y1="238.80" x2="650.10" y2="238.80" stroke="#e5e5e5" stroke-width="0.8"/>
<text x="495.50" y="241.54" font-size="7.6" stroke="#222" stroke-width="0.2" text-anchor="end" fill="#222">2.0</text>
<line x1="497.10" y1="226.60" x2="650.10" y2="226.60" stroke="#e5e5e5" stroke-width="0.8"/>
<text x="495.50" y="229.34" font-size="7.6" stroke="#222" stroke-width="0.2" text-anchor="end" fill="#222">2.5</text>
<line x1="497.10" y1="214.40" x2="650.10" y2="214.40" stroke="#e5e5e5" stroke-width="0.8"/>
<text x="495.50" y="217.14" font-size="7.6" stroke="#222" stroke-width="0.2" text-anchor="end" fill="#222">3.0</text>
<line x1="497.10" y1="202.20" x2="650.10" y2="202.20" stroke="#e5e5e5" stroke-width="0.8"/>
<text x="495.50" y="204.94" font-size="7.6" stroke="#222" stroke-width="0.2" text-anchor="end" fill="#222">3.5</text>
<line x1="497.10" y1="190.00" x2="650.10" y2="190.00" stroke="#e5e5e5" stroke-width="0.8"/>
<text x="495.50" y="192.74" font-size="7.6" stroke="#222" stroke-width="0.2" text-anchor="end" fill="#222">4.0</text>
<line x1="497.10" y1="190.00" x2="497.10" y2="287.60" stroke="#bfbfbf" stroke-width="0.8"/>
<line x1="497.10" y1="287.60" x2="650.10" y2="287.60" stroke="#bfbfbf" stroke-width="0.9"/>
<line x1="497.10" y1="287.60" x2="497.10" y2="289.80" stroke="#bfbfbf" stroke-width="0.7"/>
<line x1="535.35" y1="287.60" x2="535.35" y2="289.80" stroke="#bfbfbf" stroke-width="0.7"/>
<line x1="573.60" y1="287.60" x2="573.60" y2="289.80" stroke="#bfbfbf" stroke-width="0.7"/>
<line x1="611.85" y1="287.60" x2="611.85" y2="289.80" stroke="#bfbfbf" stroke-width="0.7"/>
<line x1="650.10" y1="287.60" x2="650.10" y2="289.80" stroke="#bfbfbf" stroke-width="0.7"/>
<rect x="509.21" y="263.20" width="15.03" height="24.40" fill="#a8a8a8" stroke="#9a9a9a" stroke-width="0.5"/>
<line x1="516.73" y1="260.76" x2="516.73" y2="265.64" stroke="#5a5a5a" stroke-width="0.55"/>
<line x1="515.52" y1="260.76" x2="517.93" y2="260.76" stroke="#5a5a5a" stroke-width="0.55"/>
<line x1="515.52" y1="265.64" x2="517.93" y2="265.64" stroke="#5a5a5a" stroke-width="0.55"/>
<rect x="547.46" y="272.96" width="15.03" height="14.64" fill="#a8a8a8" stroke="#9a9a9a" stroke-width="0.5"/>
<line x1="554.98" y1="271.50" x2="554.98" y2="274.42" stroke="#5a5a5a" stroke-width="0.55"/>
<line x1="553.77" y1="271.50" x2="556.18" y2="271.50" stroke="#5a5a5a" stroke-width="0.55"/>
<line x1="553.77" y1="274.42" x2="556.18" y2="274.42" stroke="#5a5a5a" stroke-width="0.55"/>
<rect x="585.71" y="202.20" width="15.03" height="85.40" fill="#a8a8a8" stroke="#9a9a9a" stroke-width="0.5"/>
<line x1="593.23" y1="194.64" x2="593.23" y2="209.76" stroke="#5a5a5a" stroke-width="0.55"/>
<line x1="592.02" y1="194.64" x2="594.43" y2="194.64" stroke="#5a5a5a" stroke-width="0.55"/>
<line x1="592.02" y1="209.76" x2="594.43" y2="209.76" stroke="#5a5a5a" stroke-width="0.55"/>
<rect x="623.96" y="241.97" width="15.03" height="45.63" fill="#a8a8a8" stroke="#9a9a9a" stroke-width="0.5"/>
<line x1="631.48" y1="237.82" x2="631.48" y2="246.12" stroke="#5a5a5a" stroke-width="0.55"/>
<line x1="630.27" y1="237.82" x2="632.68" y2="237.82" stroke="#5a5a5a" stroke-width="0.55"/>
<line x1="630.27" y1="246.12" x2="632.68" y2="246.12" stroke="#5a5a5a" stroke-width="0.55"/>
<g fill="#111"><circle cx="555.00" cy="262.15" r="1.50"/><circle cx="552.95" cy="264.85" r="1.60"/><circle cx="557.05" cy="264.85" r="1.60"/><circle cx="555.00" cy="264.10" r="1.20"/><path d="M554.60,263.70 L555.40,263.70 L555.85,267.50 L554.15,267.50Z"/></g>
<g fill="#111"><circle cx="593.00" cy="188.75" r="1.50"/><circle cx="590.95" cy="191.45" r="1.60"/><circle cx="595.05" cy="191.45" r="1.60"/><circle cx="593.00" cy="190.70" r="1.20"/><path d="M592.60,190.30 L593.40,190.30 L593.85,194.10 L592.15,194.10Z"/></g>
<path d="M631.00,230.10L631.00,236.70M628.14,231.75L633.86,235.05M628.14,235.05L633.86,231.75" stroke="#222" stroke-width="1.15" fill="none"/>
<text x="556.00" y="187.40" font-size="11.75" font-weight="bold" stroke="#000" stroke-width="0.15">VEGF</text>
<text x="0" y="0" font-size="9.7" stroke="#111" stroke-width="0.2" text-anchor="middle" fill="#111" transform="translate(481.31,239.60) rotate(-90)">Fold change</text>
<text x="498.60" y="295.50" font-size="7.1" stroke="#111" stroke-width="0.2" fill="#111">Normoxia</text>
<text x="533.90" y="295.50" font-size="7.1" stroke="#111" stroke-width="0.2" fill="#111">Normoxia+</text>
<text x="533.90" y="304.00" font-size="7.1" stroke="#111" stroke-width="0.2" fill="#111">Nimbolide</text>
<text x="577.70" y="296.70" font-size="7.1" stroke="#111" stroke-width="0.2" fill="#111">Hypoxia</text>
<text x="613.70" y="295.50" font-size="7.1" stroke="#111" stroke-width="0.2" fill="#111">Hypoxia+</text>
<text x="613.70" y="304.40" font-size="7.1" stroke="#111" stroke-width="0.2" fill="#111">Nimbolide</text>
<text x="78.50" y="437.47" font-size="8.8" stroke="#222" stroke-width="0.2" text-anchor="end" fill="#222">0.0</text>
<line x1="80.60" y1="416.10" x2="220.80" y2="416.10" stroke="#e5e5e5" stroke-width="0.8"/>
<text x="78.50" y="419.27" font-size="8.8" stroke="#222" stroke-width="0.2" text-anchor="end" fill="#222">1.0</text>
<line x1="80.60" y1="397.90" x2="220.80" y2="397.90" stroke="#e5e5e5" stroke-width="0.8"/>
<text x="78.50" y="401.07" font-size="8.8" stroke="#222" stroke-width="0.2" text-anchor="end" fill="#222">2.0</text>
<line x1="80.60" y1="379.70" x2="220.80" y2="379.70" stroke="#e5e5e5" stroke-width="0.8"/>
<text x="78.50" y="382.87" font-size="8.8" stroke="#222" stroke-width="0.2" text-anchor="end" fill="#222">3.0</text>
<line x1="80.60" y1="361.50" x2="220.80" y2="361.50" stroke="#e5e5e5" stroke-width="0.8"/>
<text x="78.50" y="364.67" font-size="8.8" stroke="#222" stroke-width="0.2" text-anchor="end" fill="#222">4.0</text>
<line x1="80.60" y1="343.30" x2="220.80" y2="343.30" stroke="#e5e5e5" stroke-width="0.8"/>
<text x="78.50" y="346.47" font-size="8.8" stroke="#222" stroke-width="0.2" text-anchor="end" fill="#222">5.0</text>
<line x1="80.60" y1="343.30" x2="80.60" y2="434.30" stroke="#bfbfbf" stroke-width="0.8"/>
<line x1="80.60" y1="434.30" x2="220.80" y2="434.30" stroke="#bfbfbf" stroke-width="0.9"/>
<line x1="80.60" y1="434.30" x2="80.60" y2="436.50" stroke="#bfbfbf" stroke-width="0.7"/>
<line x1="115.65" y1="434.30" x2="115.65" y2="436.50" stroke="#bfbfbf" stroke-width="0.7"/>
<line x1="150.70" y1="434.30" x2="150.70" y2="436.50" stroke="#bfbfbf" stroke-width="0.7"/>
<line x1="185.75" y1="434.30" x2="185.75" y2="436.50" stroke="#bfbfbf" stroke-width="0.7"/>
<line x1="220.80" y1="434.30" x2="220.80" y2="436.50" stroke="#bfbfbf" stroke-width="0.7"/>
<rect x="91.84" y="416.10" width="13.77" height="18.20" fill="#a8a8a8" stroke="#9a9a9a" stroke-width="0.5"/>
<line x1="98.72" y1="415.19" x2="98.72" y2="417.01" stroke="#5a5a5a" stroke-width="0.55"/>
<line x1="97.52" y1="415.19" x2="99.92" y2="415.19" stroke="#5a5a5a" stroke-width="0.55"/>
<line x1="97.52" y1="417.01" x2="99.92" y2="417.01" stroke="#5a5a5a" stroke-width="0.55"/>
<rect x="126.89" y="419.92" width="13.77" height="14.38" fill="#a8a8a8" stroke="#9a9a9a" stroke-width="0.5"/>
<line x1="133.78" y1="419.01" x2="133.78" y2="420.83" stroke="#5a5a5a" stroke-width="0.55"/>
<line x1="132.58" y1="419.01" x2="134.97" y2="419.01" stroke="#5a5a5a" stroke-width="0.55"/>
<line x1="132.58" y1="420.83" x2="134.97" y2="420.83" stroke="#5a5a5a" stroke-width="0.55"/>
<rect x="161.94" y="380.06" width="13.77" height="54.24" fill="#a8a8a8" stroke="#9a9a9a" stroke-width="0.5"/>
<line x1="168.83" y1="375.15" x2="168.83" y2="384.98" stroke="#5a5a5a" stroke-width="0.55"/>
<line x1="167.63" y1="375.15" x2="170.03" y2="375.15" stroke="#5a5a5a" stroke-width="0.55"/>
<line x1="167.63" y1="384.98" x2="170.03" y2="384.98" stroke="#5a5a5a" stroke-width="0.55"/>
<rect x="196.99" y="400.63" width="13.77" height="33.67" fill="#a8a8a8" stroke="#9a9a9a" stroke-width="0.5"/>
<line x1="203.88" y1="397.72" x2="203.88" y2="403.54" stroke="#5a5a5a" stroke-width="0.55"/>
<line x1="202.68" y1="397.72" x2="205.07" y2="397.72" stroke="#5a5a5a" stroke-width="0.55"/>
<line x1="202.68" y1="403.54" x2="205.07" y2="403.54" stroke="#5a5a5a" stroke-width="0.55"/>
<g fill="#111"><circle cx="168.50" cy="365.05" r="1.50"/><circle cx="166.45" cy="367.75" r="1.60"/><circle cx="170.55" cy="367.75" r="1.60"/><circle cx="168.50" cy="367.00" r="1.20"/><path d="M168.10,366.60 L168.90,366.60 L169.35,370.40 L167.65,370.40Z"/></g>
<path d="M203.20,387.20L203.20,393.80M200.34,388.85L206.06,392.15M200.34,392.15L206.06,388.85" stroke="#222" stroke-width="1.15" fill="none"/>
<text x="132.10" y="339.20" font-size="11.7" font-weight="bold" stroke="#000" stroke-width="0.15">VEGFR2</text>
<text x="0" y="0" font-size="9.7" stroke="#111" stroke-width="0.2" text-anchor="middle" fill="#111" transform="translate(64.41,392.80) rotate(-90)">Fold change</text>
<text x="82.60" y="443.70" font-size="7.1" stroke="#111" stroke-width="0.2" fill="#111">Normoxia</text>
<text x="117.90" y="443.70" font-size="7.1" stroke="#111" stroke-width="0.2" fill="#111">Normoxia+</text>
<text x="117.90" y="452.00" font-size="7.1" stroke="#111" stroke-width="0.2" fill="#111">Nimbolide</text>
<text x="156.70" y="444.80" font-size="7.1" stroke="#111" stroke-width="0.2" fill="#111">Hypoxia</text>
<text x="187.50" y="443.40" font-size="7.1" stroke="#111" stroke-width="0.2" fill="#111">Hypoxia+</text>
<text x="187.50" y="452.20" font-size="7.1" stroke="#111" stroke-width="0.2" fill="#111">Nimbolide</text>
<text x="284.40" y="438.25" font-size="8.2" stroke="#222" stroke-width="0.2" text-anchor="end" fill="#222">0.0</text>
<line x1="288.00" y1="421.60" x2="428.30" y2="421.60" stroke="#e5e5e5" stroke-width="0.8"/>
<text x="284.40" y="424.55" font-size="8.2" stroke="#222" stroke-width="0.2" text-anchor="end" fill="#222">0.5</text>
<line x1="288.00" y1="407.90" x2="428.30" y2="407.90" stroke="#e5e5e5" stroke-width="0.8"/>
<text x="284.40" y="410.85" font-size="8.2" stroke="#222" stroke-width="0.2" text-anchor="end" fill="#222">1.0</text>
<line x1="288.00" y1="394.20" x2="428.30" y2="394.20" stroke="#e5e5e5" stroke-width="0.8"/>
<text x="284.40" y="397.15" font-size="8.2" stroke="#222" stroke-width="0.2" text-anchor="end" fill="#222">1.5</text>
<line x1="288.00" y1="380.50" x2="428.30" y2="380.50" stroke="#e5e5e5" stroke-width="0.8"/>
<text x="284.40" y="383.45" font-size="8.2" stroke="#222" stroke-width="0.2" text-anchor="end" fill="#222">2.0</text>
<line x1="288.00" y1="366.80" x2="428.30" y2="366.80" stroke="#e5e5e5" stroke-width="0.8"/>
<text x="284.40" y="369.75" font-size="8.2" stroke="#222" stroke-width="0.2" text-anchor="end" fill="#222">2.5</text>
<line x1="288.00" y1="353.10" x2="428.30" y2="353.10" stroke="#e5e5e5" stroke-width="0.8"/>
<text x="284.40" y="356.05" font-size="8.2" stroke="#222" stroke-width="0.2" text-anchor="end" fill="#222">3.0</text>
<line x1="288.00" y1="339.40" x2="428.30" y2="339.40" stroke="#e5e5e5" stroke-width="0.8"/>
<text x="284.40" y="342.35" font-size="8.2" stroke="#222" stroke-width="0.2" text-anchor="end" fill="#222">3.5</text>
<line x1="288.00" y1="339.40" x2="288.00" y2="435.30" stroke="#bfbfbf" stroke-width="0.8"/>
<line x1="288.00" y1="435.30" x2="428.30" y2="435.30" stroke="#bfbfbf" stroke-width="0.9"/>
<line x1="288.00" y1="435.30" x2="288.00" y2="437.50" stroke="#bfbfbf" stroke-width="0.7"/>
<line x1="323.07" y1="435.30" x2="323.07" y2="437.50" stroke="#bfbfbf" stroke-width="0.7"/>
<line x1="358.15" y1="435.30" x2="358.15" y2="437.50" stroke="#bfbfbf" stroke-width="0.7"/>
<line x1="393.23" y1="435.30" x2="393.23" y2="437.50" stroke="#bfbfbf" stroke-width="0.7"/>
<line x1="428.30" y1="435.30" x2="428.30" y2="437.50" stroke="#bfbfbf" stroke-width="0.7"/>
<rect x="298.95" y="407.90" width="13.78" height="27.40" fill="#a8a8a8" stroke="#9a9a9a" stroke-width="0.5"/>
<line x1="305.84" y1="405.16" x2="305.84" y2="410.64" stroke="#5a5a5a" stroke-width="0.55"/>
<line x1="304.64" y1="405.16" x2="307.04" y2="405.16" stroke="#5a5a5a" stroke-width="0.55"/>
<line x1="304.64" y1="410.64" x2="307.04" y2="410.64" stroke="#5a5a5a" stroke-width="0.55"/>
<rect x="334.02" y="422.42" width="13.78" height="12.88" fill="#a8a8a8" stroke="#9a9a9a" stroke-width="0.5"/>
<line x1="340.91" y1="421.33" x2="340.91" y2="423.52" stroke="#5a5a5a" stroke-width="0.55"/>
<line x1="339.71" y1="421.33" x2="342.11" y2="421.33" stroke="#5a5a5a" stroke-width="0.55"/>
<line x1="339.71" y1="423.52" x2="342.11" y2="423.52" stroke="#5a5a5a" stroke-width="0.55"/>
<rect x="369.10" y="355.02" width="13.78" height="80.28" fill="#a8a8a8" stroke="#9a9a9a" stroke-width="0.5"/>
<line x1="375.99" y1="347.62" x2="375.99" y2="362.42" stroke="#5a5a5a" stroke-width="0.55"/>
<line x1="374.79" y1="347.62" x2="377.19" y2="347.62" stroke="#5a5a5a" stroke-width="0.55"/>
<line x1="374.79" y1="362.42" x2="377.19" y2="362.42" stroke="#5a5a5a" stroke-width="0.55"/>
<rect x="404.17" y="391.73" width="13.78" height="43.57" fill="#a8a8a8" stroke="#9a9a9a" stroke-width="0.5"/>
<line x1="411.06" y1="388.17" x2="411.06" y2="395.30" stroke="#5a5a5a" stroke-width="0.55"/>
<line x1="409.86" y1="388.17" x2="412.26" y2="388.17" stroke="#5a5a5a" stroke-width="0.55"/>
<line x1="409.86" y1="395.30" x2="412.26" y2="395.30" stroke="#5a5a5a" stroke-width="0.55"/>
<g fill="#111"><circle cx="340.30" cy="412.75" r="1.50"/><circle cx="338.25" cy="415.45" r="1.60"/><circle cx="342.35" cy="415.45" r="1.60"/><circle cx="340.30" cy="414.70" r="1.20"/><path d="M339.90,414.30 L340.70,414.30 L341.15,418.10 L339.45,418.10Z"/></g>
<g fill="#111"><circle cx="376.20" cy="341.35" r="1.50"/><circle cx="374.15" cy="344.05" r="1.60"/><circle cx="378.25" cy="344.05" r="1.60"/><circle cx="376.20" cy="343.30" r="1.20"/><path d="M375.80,342.90 L376.60,342.90 L377.05,346.70 L375.35,346.70Z"/></g>
<path d="M410.90,379.90L410.90,386.50M408.04,381.55L413.76,384.85M408.04,384.85L413.76,381.55" stroke="#222" stroke-width="1.15" fill="none"/>
<text x="334.00" y="337.20" font-size="11.7" font-weight="bold" stroke="#000" stroke-width="0.15">VEGFR2</text>
<text x="0" y="0" font-size="9.7" stroke="#111" stroke-width="0.2" text-anchor="middle" fill="#111" transform="translate(269.31,387.00) rotate(-90)">Fold change</text>
<text x="290.90" y="442.40" font-size="7.1" stroke="#111" stroke-width="0.2" fill="#111">Normoxia</text>
<text x="326.50" y="442.40" font-size="7.1" stroke="#111" stroke-width="0.2" fill="#111">Normoxia+</text>
<text x="326.50" y="450.60" font-size="7.1" stroke="#111" stroke-width="0.2" fill="#111">Nimbolide</text>
<text x="365.30" y="443.40" font-size="7.1" stroke="#111" stroke-width="0.2" fill="#111">Hypoxia</text>
<text x="395.70" y="441.90" font-size="7.1" stroke="#111" stroke-width="0.2" fill="#111">Hypoxia+</text>
<text x="395.70" y="450.80" font-size="7.1" stroke="#111" stroke-width="0.2" fill="#111">Nimbolide</text>
<text x="499.00" y="435.37" font-size="7.7" stroke="#222" stroke-width="0.2" text-anchor="end" fill="#222">0.0</text>
<line x1="501.80" y1="420.90" x2="648.80" y2="420.90" stroke="#e5e5e5" stroke-width="0.8"/>
<text x="499.00" y="423.67" font-size="7.7" stroke="#222" stroke-width="0.2" text-anchor="end" fill="#222">0.5</text>
<line x1="501.80" y1="409.20" x2="648.80" y2="409.20" stroke="#e5e5e5" stroke-width="0.8"/>
<text x="499.00" y="411.97" font-size="7.7" stroke="#222" stroke-width="0.2" text-anchor="end" fill="#222">1.0</text>
<line x1="501.80" y1="397.50" x2="648.80" y2="397.50" stroke="#e5e5e5" stroke-width="0.8"/>
<text x="499.00" y="400.27" font-size="7.7" stroke="#222" stroke-width="0.2" text-anchor="end" fill="#222">1.5</text>
<line x1="501.80" y1="385.80" x2="648.80" y2="385.80" stroke="#e5e5e5" stroke-width="0.8"/>
<text x="499.00" y="388.57" font-size="7.7" stroke="#222" stroke-width="0.2" text-anchor="end" fill="#222">2.0</text>
<line x1="501.80" y1="374.10" x2="648.80" y2="374.10" stroke="#e5e5e5" stroke-width="0.8"/>
<text x="499.00" y="376.87" font-size="7.7" stroke="#222" stroke-width="0.2" text-anchor="end" fill="#222">2.5</text>
<line x1="501.80" y1="362.40" x2="648.80" y2="362.40" stroke="#e5e5e5" stroke-width="0.8"/>
<text x="499.00" y="365.17" font-size="7.7" stroke="#222" stroke-width="0.2" text-anchor="end" fill="#222">3.0</text>
<line x1="501.80" y1="350.70" x2="648.80" y2="350.70" stroke="#e5e5e5" stroke-width="0.8"/>
<text x="499.00" y="353.47" font-size="7.7" stroke="#222" stroke-width="0.2" text-anchor="end" fill="#222">3.5</text>
<line x1="501.80" y1="339.00" x2="648.80" y2="339.00" stroke="#e5e5e5" stroke-width="0.8"/>
<text x="499.00" y="341.77" font-size="7.7" stroke="#222" stroke-width="0.2" text-anchor="end" fill="#222">4.0</text>
<line x1="501.80" y1="339.00" x2="501.80" y2="432.60" stroke="#bfbfbf" stroke-width="0.8"/>
<line x1="501.80" y1="432.60" x2="648.80" y2="432.60" stroke="#bfbfbf" stroke-width="0.9"/>
<line x1="501.80" y1="432.60" x2="501.80" y2="434.80" stroke="#bfbfbf" stroke-width="0.7"/>
<line x1="538.55" y1="432.60" x2="538.55" y2="434.80" stroke="#bfbfbf" stroke-width="0.7"/>
<line x1="575.30" y1="432.60" x2="575.30" y2="434.80" stroke="#bfbfbf" stroke-width="0.7"/>
<line x1="612.05" y1="432.60" x2="612.05" y2="434.80" stroke="#bfbfbf" stroke-width="0.7"/>
<line x1="648.80" y1="432.60" x2="648.80" y2="434.80" stroke="#bfbfbf" stroke-width="0.7"/>
<rect x="512.95" y="409.20" width="14.44" height="23.40" fill="#a8a8a8" stroke="#9a9a9a" stroke-width="0.5"/>
<line x1="520.17" y1="406.86" x2="520.17" y2="411.54" stroke="#5a5a5a" stroke-width="0.55"/>
<line x1="518.97" y1="406.86" x2="521.38" y2="406.86" stroke="#5a5a5a" stroke-width="0.55"/>
<line x1="518.97" y1="411.54" x2="521.38" y2="411.54" stroke="#5a5a5a" stroke-width="0.55"/>
<rect x="549.70" y="419.03" width="14.44" height="13.57" fill="#a8a8a8" stroke="#9a9a9a" stroke-width="0.5"/>
<line x1="556.92" y1="417.39" x2="556.92" y2="420.67" stroke="#5a5a5a" stroke-width="0.55"/>
<line x1="555.72" y1="417.39" x2="558.12" y2="417.39" stroke="#5a5a5a" stroke-width="0.55"/>
<line x1="555.72" y1="420.67" x2="558.12" y2="420.67" stroke="#5a5a5a" stroke-width="0.55"/>
<rect x="586.45" y="359.12" width="14.44" height="73.48" fill="#a8a8a8" stroke="#9a9a9a" stroke-width="0.5"/>
<line x1="593.67" y1="353.27" x2="593.67" y2="364.97" stroke="#5a5a5a" stroke-width="0.55"/>
<line x1="592.47" y1="353.27" x2="594.88" y2="353.27" stroke="#5a5a5a" stroke-width="0.55"/>
<line x1="592.47" y1="364.97" x2="594.88" y2="364.97" stroke="#5a5a5a" stroke-width="0.55"/>
<rect x="623.20" y="388.84" width="14.44" height="43.76" fill="#a8a8a8" stroke="#9a9a9a" stroke-width="0.5"/>
<line x1="630.42" y1="385.10" x2="630.42" y2="392.59" stroke="#5a5a5a" stroke-width="0.55"/>
<line x1="629.22" y1="385.10" x2="631.62" y2="385.10" stroke="#5a5a5a" stroke-width="0.55"/>
<line x1="629.22" y1="392.59" x2="631.62" y2="392.59" stroke="#5a5a5a" stroke-width="0.55"/>
<g fill="#111"><circle cx="558.80" cy="410.75" r="1.50"/><circle cx="556.75" cy="413.45" r="1.60"/><circle cx="560.85" cy="413.45" r="1.60"/><circle cx="558.80" cy="412.70" r="1.20"/><path d="M558.40,412.30 L559.20,412.30 L559.65,416.10 L557.95,416.10Z"/></g>
<g fill="#111"><circle cx="593.40" cy="344.15" r="1.50"/><circle cx="591.35" cy="346.85" r="1.60"/><circle cx="595.45" cy="346.85" r="1.60"/><circle cx="593.40" cy="346.10" r="1.20"/><path d="M593.00,345.70 L593.80,345.70 L594.25,349.50 L592.55,349.50Z"/></g>
<path d="M628.40,374.90L628.40,381.50M625.54,376.55L631.26,379.85M625.54,379.85L631.26,376.55" stroke="#222" stroke-width="1.15" fill="none"/>
<text x="546.70" y="334.30" font-size="11.7" font-weight="bold" stroke="#000" stroke-width="0.15">VEGFR2</text>
<text x="0" y="0" font-size="9.7" stroke="#111" stroke-width="0.2" text-anchor="middle" fill="#111" transform="translate(481.11,387.00) rotate(-90)">Fold change</text>
<text x="501.70" y="440.50" font-size="7.1" stroke="#111" stroke-width="0.2" fill="#111">Normoxia</text>
<text x="539.10" y="440.50" font-size="7.1" stroke="#111" stroke-width="0.2" fill="#111">Normoxia+</text>
<text x="539.10" y="448.80" font-size="7.1" stroke="#111" stroke-width="0.2" fill="#111">Nimbolide</text>
<text x="581.70" y="441.10" font-size="7.1" stroke="#111" stroke-width="0.2" fill="#111">Hypoxia</text>
<text x="615.70" y="441.40" font-size="7.1" stroke="#111" stroke-width="0.2" fill="#111">Hypoxia+</text>
<text x="615.70" y="450.20" font-size="7.1" stroke="#111" stroke-width="0.2" fill="#111">Nimbolide</text>
<text x="74.20" y="578.56" font-size="9.6" stroke="#222" stroke-width="0.2" text-anchor="end" fill="#222">0.0</text>
<line x1="79.90" y1="556.00" x2="227.10" y2="556.00" stroke="#e5e5e5" stroke-width="0.8"/>
<text x="74.20" y="559.46" font-size="9.6" stroke="#222" stroke-width="0.2" text-anchor="end" fill="#222">0.5</text>
<line x1="79.90" y1="536.90" x2="227.10" y2="536.90" stroke="#e5e5e5" stroke-width="0.8"/>
<text x="74.20" y="540.36" font-size="9.6" stroke="#222" stroke-width="0.2" text-anchor="end" fill="#222">1.0</text>
<line x1="79.90" y1="517.80" x2="227.10" y2="517.80" stroke="#e5e5e5" stroke-width="0.8"/>
<text x="74.20" y="521.26" font-size="9.6" stroke="#222" stroke-width="0.2" text-anchor="end" fill="#222">1.5</text>
<line x1="79.90" y1="498.70" x2="227.10" y2="498.70" stroke="#e5e5e5" stroke-width="0.8"/>
<text x="74.20" y="502.16" font-size="9.6" stroke="#222" stroke-width="0.2" text-anchor="end" fill="#222">2.0</text>
<line x1="79.90" y1="479.60" x2="227.10" y2="479.60" stroke="#e5e5e5" stroke-width="0.8"/>
<text x="74.20" y="483.06" font-size="9.6" stroke="#222" stroke-width="0.2" text-anchor="end" fill="#222">2.5</text>
<line x1="79.90" y1="479.60" x2="79.90" y2="575.10" stroke="#bfbfbf" stroke-width="0.8"/>
<line x1="79.90" y1="575.10" x2="227.10" y2="575.10" stroke="#bfbfbf" stroke-width="0.9"/>
<line x1="79.90" y1="575.10" x2="79.90" y2="577.30" stroke="#bfbfbf" stroke-width="0.7"/>
<line x1="116.70" y1="575.10" x2="116.70" y2="577.30" stroke="#bfbfbf" stroke-width="0.7"/>
<line x1="153.50" y1="575.10" x2="153.50" y2="577.30" stroke="#bfbfbf" stroke-width="0.7"/>
<line x1="190.30" y1="575.10" x2="190.30" y2="577.30" stroke="#bfbfbf" stroke-width="0.7"/>
<line x1="227.10" y1="575.10" x2="227.10" y2="577.30" stroke="#bfbfbf" stroke-width="0.7"/>
<rect x="91.47" y="536.90" width="14.46" height="38.20" fill="#a8a8a8" stroke="#9a9a9a" stroke-width="0.5"/>
<line x1="98.70" y1="533.84" x2="98.70" y2="539.96" stroke="#5a5a5a" stroke-width="0.55"/>
<line x1="97.50" y1="533.84" x2="99.90" y2="533.84" stroke="#5a5a5a" stroke-width="0.55"/>
<line x1="97.50" y1="539.96" x2="99.90" y2="539.96" stroke="#5a5a5a" stroke-width="0.55"/>
<rect x="128.27" y="544.16" width="14.46" height="30.94" fill="#a8a8a8" stroke="#9a9a9a" stroke-width="0.5"/>
<line x1="135.50" y1="541.10" x2="135.50" y2="547.21" stroke="#5a5a5a" stroke-width="0.55"/>
<line x1="134.30" y1="541.10" x2="136.70" y2="541.10" stroke="#5a5a5a" stroke-width="0.55"/>
<line x1="134.30" y1="547.21" x2="136.70" y2="547.21" stroke="#5a5a5a" stroke-width="0.55"/>
<rect x="165.07" y="498.32" width="14.46" height="76.78" fill="#a8a8a8" stroke="#9a9a9a" stroke-width="0.5"/>
<line x1="172.30" y1="492.21" x2="172.30" y2="504.43" stroke="#5a5a5a" stroke-width="0.55"/>
<line x1="171.10" y1="492.21" x2="173.50" y2="492.21" stroke="#5a5a5a" stroke-width="0.55"/>
<line x1="171.10" y1="504.43" x2="173.50" y2="504.43" stroke="#5a5a5a" stroke-width="0.55"/>
<rect x="201.87" y="534.61" width="14.46" height="40.49" fill="#a8a8a8" stroke="#9a9a9a" stroke-width="0.5"/>
<line x1="209.10" y1="530.79" x2="209.10" y2="538.43" stroke="#5a5a5a" stroke-width="0.55"/>
<line x1="207.90" y1="530.79" x2="210.30" y2="530.79" stroke="#5a5a5a" stroke-width="0.55"/>
<line x1="207.90" y1="538.43" x2="210.30" y2="538.43" stroke="#5a5a5a" stroke-width="0.55"/>
<g fill="#111"><circle cx="172.50" cy="484.15" r="1.50"/><circle cx="170.45" cy="486.85" r="1.60"/><circle cx="174.55" cy="486.85" r="1.60"/><circle cx="172.50" cy="486.10" r="1.20"/><path d="M172.10,485.70 L172.90,485.70 L173.35,489.50 L171.65,489.50Z"/></g>
<path d="M208.30,521.30L208.30,527.90M205.44,522.95L211.16,526.25M205.44,526.25L211.16,522.95" stroke="#222" stroke-width="1.15" fill="none"/>
<text x="137.40" y="471.70" font-size="10.9" font-weight="bold" stroke="#000" stroke-width="0.15">miR-21</text>
<text x="0" y="0" font-size="9.7" stroke="#111" stroke-width="0.2" text-anchor="middle" fill="#111" transform="translate(55.31,529.10) rotate(-90)">Fold change</text>
<text x="83.70" y="583.70" font-size="7.1" stroke="#111" stroke-width="0.2" fill="#111">Normoxia</text>
<text x="119.90" y="585.80" font-size="7.1" stroke="#111" stroke-width="0.2" fill="#111">Normoxia+</text>
<text x="119.90" y="594.60" font-size="7.1" stroke="#111" stroke-width="0.2" fill="#111">Nimbolide</text>
<text x="161.10" y="585.10" font-size="7.1" stroke="#111" stroke-width="0.2" fill="#111">Hypoxia</text>
<text x="191.30" y="585.10" font-size="7.1" stroke="#111" stroke-width="0.2" fill="#111">Hypoxia+</text>
<text x="191.30" y="593.70" font-size="7.1" stroke="#111" stroke-width="0.2" fill="#111">Nimbolide</text>
<text x="286.10" y="578.06" font-size="7.4" stroke="#222" stroke-width="0.2" text-anchor="end" fill="#222">0.0</text>
<line x1="288.50" y1="561.20" x2="447.20" y2="561.20" stroke="#e5e5e5" stroke-width="0.8"/>
<text x="286.10" y="563.86" font-size="7.4" stroke="#222" stroke-width="0.2" text-anchor="end" fill="#222">0.5</text>
<line x1="288.50" y1="547.00" x2="447.20" y2="547.00" stroke="#e5e5e5" stroke-width="0.8"/>
<text x="286.10" y="549.66" font-size="7.4" stroke="#222" stroke-width="0.2" text-anchor="end" fill="#222">1.0</text>
<line x1="288.50" y1="532.80" x2="447.20" y2="532.80" stroke="#e5e5e5" stroke-width="0.8"/>
<text x="286.10" y="535.46" font-size="7.4" stroke="#222" stroke-width="0.2" text-anchor="end" fill="#222">1.5</text>
<line x1="288.50" y1="518.60" x2="447.20" y2="518.60" stroke="#e5e5e5" stroke-width="0.8"/>
<text x="286.10" y="521.26" font-size="7.4" stroke="#222" stroke-width="0.2" text-anchor="end" fill="#222">2.0</text>
<line x1="288.50" y1="504.40" x2="447.20" y2="504.40" stroke="#e5e5e5" stroke-width="0.8"/>
<text x="286.10" y="507.06" font-size="7.4" stroke="#222" stroke-width="0.2" text-anchor="end" fill="#222">2.5</text>
<line x1="288.50" y1="490.20" x2="447.20" y2="490.20" stroke="#e5e5e5" stroke-width="0.8"/>
<text x="286.10" y="492.86" font-size="7.4" stroke="#222" stroke-width="0.2" text-anchor="end" fill="#222">3.0</text>
<line x1="288.50" y1="476.00" x2="447.20" y2="476.00" stroke="#e5e5e5" stroke-width="0.8"/>
<text x="286.10" y="478.66" font-size="7.4" stroke="#222" stroke-width="0.2" text-anchor="end" fill="#222">3.5</text>
<line x1="288.50" y1="476.00" x2="288.50" y2="575.40" stroke="#bfbfbf" stroke-width="0.8"/>
<line x1="288.50" y1="575.40" x2="447.20" y2="575.40" stroke="#bfbfbf" stroke-width="0.9"/>
<line x1="288.50" y1="575.40" x2="288.50" y2="577.60" stroke="#bfbfbf" stroke-width="0.7"/>
<line x1="328.18" y1="575.40" x2="328.18" y2="577.60" stroke="#bfbfbf" stroke-width="0.7"/>
<line x1="367.85" y1="575.40" x2="367.85" y2="577.60" stroke="#bfbfbf" stroke-width="0.7"/>
<line x1="407.52" y1="575.40" x2="407.52" y2="577.60" stroke="#bfbfbf" stroke-width="0.7"/>
<line x1="447.20" y1="575.40" x2="447.20" y2="577.60" stroke="#bfbfbf" stroke-width="0.7"/>
<rect x="300.54" y="547.00" width="15.59" height="28.40" fill="#a8a8a8" stroke="#9a9a9a" stroke-width="0.5"/>
<line x1="308.34" y1="544.16" x2="308.34" y2="549.84" stroke="#5a5a5a" stroke-width="0.55"/>
<line x1="307.14" y1="544.16" x2="309.54" y2="544.16" stroke="#5a5a5a" stroke-width="0.55"/>
<line x1="307.14" y1="549.84" x2="309.54" y2="549.84" stroke="#5a5a5a" stroke-width="0.55"/>
<rect x="340.22" y="560.35" width="15.59" height="15.05" fill="#a8a8a8" stroke="#9a9a9a" stroke-width="0.5"/>
<line x1="348.01" y1="558.93" x2="348.01" y2="561.77" stroke="#5a5a5a" stroke-width="0.55"/>
<line x1="346.81" y1="558.93" x2="349.21" y2="558.93" stroke="#5a5a5a" stroke-width="0.55"/>
<line x1="346.81" y1="561.77" x2="349.21" y2="561.77" stroke="#5a5a5a" stroke-width="0.55"/>
<rect x="379.89" y="498.72" width="15.59" height="76.68" fill="#a8a8a8" stroke="#9a9a9a" stroke-width="0.5"/>
<line x1="387.69" y1="492.47" x2="387.69" y2="504.97" stroke="#5a5a5a" stroke-width="0.55"/>
<line x1="386.49" y1="492.47" x2="388.89" y2="492.47" stroke="#5a5a5a" stroke-width="0.55"/>
<line x1="386.49" y1="504.97" x2="388.89" y2="504.97" stroke="#5a5a5a" stroke-width="0.55"/>
<rect x="419.57" y="524.00" width="15.59" height="51.40" fill="#a8a8a8" stroke="#9a9a9a" stroke-width="0.5"/>
<line x1="427.36" y1="519.74" x2="427.36" y2="528.26" stroke="#5a5a5a" stroke-width="0.55"/>
<line x1="426.16" y1="519.74" x2="428.56" y2="519.74" stroke="#5a5a5a" stroke-width="0.55"/>
<line x1="426.16" y1="528.26" x2="428.56" y2="528.26" stroke="#5a5a5a" stroke-width="0.55"/>
<g fill="#111"><circle cx="349.30" cy="550.55" r="1.50"/><circle cx="347.25" cy="553.25" r="1.60"/><circle cx="351.35" cy="553.25" r="1.60"/><circle cx="349.30" cy="552.50" r="1.20"/><path d="M348.90,552.10 L349.70,552.10 L350.15,555.90 L348.45,555.90Z"/></g>
<g fill="#111"><circle cx="387.70" cy="485.65" r="1.50"/><circle cx="385.65" cy="488.35" r="1.60"/><circle cx="389.75" cy="488.35" r="1.60"/><circle cx="387.70" cy="487.60" r="1.20"/><path d="M387.30,487.20 L388.10,487.20 L388.55,491.00 L386.85,491.00Z"/></g>
<path d="M427.00,511.50L427.00,518.10M424.14,513.15L429.86,516.45M424.14,516.45L429.86,513.15" stroke="#222" stroke-width="1.15" fill="none"/>
<text x="352.60" y="473.00" font-size="11.6" font-weight="bold" stroke="#000" stroke-width="0.15">miR21</text>
<text x="0" y="0" font-size="9.7" stroke="#111" stroke-width="0.2" text-anchor="middle" fill="#111" transform="translate(271.01,524.20) rotate(-90)">Fold change</text>
<text x="293.70" y="581.50" font-size="7.1" stroke="#111" stroke-width="0.2" fill="#111">Normoxia</text>
<text x="328.70" y="581.50" font-size="7.1" stroke="#111" stroke-width="0.2" fill="#111">Normoxia+</text>
<text x="328.70" y="589.80" font-size="7.1" stroke="#111" stroke-width="0.2" fill="#111">Nimbolide</text>
<text x="371.50" y="582.70" font-size="7.1" stroke="#111" stroke-width="0.2" fill="#111">Hypoxia</text>
<text x="409.70" y="581.50" font-size="7.1" stroke="#111" stroke-width="0.2" fill="#111">Hypoxia+</text>
<text x="409.70" y="590.20" font-size="7.1" stroke="#111" stroke-width="0.2" fill="#111">Nimbolide</text>
<text x="492.70" y="578.72" font-size="7.0" stroke="#222" stroke-width="0.2" text-anchor="end" fill="#222">0.0</text>
<line x1="496.50" y1="562.55" x2="645.40" y2="562.55" stroke="#e5e5e5" stroke-width="0.8"/>
<text x="492.70" y="565.07" font-size="7.0" stroke="#222" stroke-width="0.2" text-anchor="end" fill="#222">0.5</text>
<line x1="496.50" y1="548.90" x2="645.40" y2="548.90" stroke="#e5e5e5" stroke-width="0.8"/>
<text x="492.70" y="551.42" font-size="7.0" stroke="#222" stroke-width="0.2" text-anchor="end" fill="#222">1.0</text>
<line x1="496.50" y1="535.25" x2="645.40" y2="535.25" stroke="#e5e5e5" stroke-width="0.8"/>
<text x="492.70" y="537.77" font-size="7.0" stroke="#222" stroke-width="0.2" text-anchor="end" fill="#222">1.5</text>
<line x1="496.50" y1="521.60" x2="645.40" y2="521.60" stroke="#e5e5e5" stroke-width="0.8"/>
<text x="492.70" y="524.12" font-size="7.0" stroke="#222" stroke-width="0.2" text-anchor="end" fill="#222">2.0</text>
<line x1="496.50" y1="507.95" x2="645.40" y2="507.95" stroke="#e5e5e5" stroke-width="0.8"/>
<text x="492.70" y="510.47" font-size="7.0" stroke="#222" stroke-width="0.2" text-anchor="end" fill="#222">2.5</text>
<line x1="496.50" y1="494.30" x2="645.40" y2="494.30" stroke="#e5e5e5" stroke-width="0.8"/>
<text x="492.70" y="496.82" font-size="7.0" stroke="#222" stroke-width="0.2" text-anchor="end" fill="#222">3.0</text>
<line x1="496.50" y1="480.65" x2="645.40" y2="480.65" stroke="#e5e5e5" stroke-width="0.8"/>
<text x="492.70" y="483.17" font-size="7.0" stroke="#222" stroke-width="0.2" text-anchor="end" fill="#222">3.5</text>
<line x1="496.50" y1="480.65" x2="496.50" y2="576.20" stroke="#bfbfbf" stroke-width="0.8"/>
<line x1="496.50" y1="576.20" x2="645.40" y2="576.20" stroke="#bfbfbf" stroke-width="0.9"/>
<line x1="496.50" y1="576.20" x2="496.50" y2="578.40" stroke="#bfbfbf" stroke-width="0.7"/>
<line x1="533.73" y1="576.20" x2="533.73" y2="578.40" stroke="#bfbfbf" stroke-width="0.7"/>
<line x1="570.95" y1="576.20" x2="570.95" y2="578.40" stroke="#bfbfbf" stroke-width="0.7"/>
<line x1="608.17" y1="576.20" x2="608.17" y2="578.40" stroke="#bfbfbf" stroke-width="0.7"/>
<line x1="645.40" y1="576.20" x2="645.40" y2="578.40" stroke="#bfbfbf" stroke-width="0.7"/>
<rect x="508.20" y="548.90" width="14.63" height="27.30" fill="#a8a8a8" stroke="#9a9a9a" stroke-width="0.5"/>
<line x1="515.51" y1="546.17" x2="515.51" y2="551.63" stroke="#5a5a5a" stroke-width="0.55"/>
<line x1="514.31" y1="546.17" x2="516.71" y2="546.17" stroke="#5a5a5a" stroke-width="0.55"/>
<line x1="514.31" y1="551.63" x2="516.71" y2="551.63" stroke="#5a5a5a" stroke-width="0.55"/>
<rect x="545.42" y="562.82" width="14.63" height="13.38" fill="#a8a8a8" stroke="#9a9a9a" stroke-width="0.5"/>
<line x1="552.74" y1="561.19" x2="552.74" y2="564.46" stroke="#5a5a5a" stroke-width="0.55"/>
<line x1="551.54" y1="561.19" x2="553.94" y2="561.19" stroke="#5a5a5a" stroke-width="0.55"/>
<line x1="551.54" y1="564.46" x2="553.94" y2="564.46" stroke="#5a5a5a" stroke-width="0.55"/>
<rect x="582.65" y="496.76" width="14.63" height="79.44" fill="#a8a8a8" stroke="#9a9a9a" stroke-width="0.5"/>
<line x1="589.96" y1="490.48" x2="589.96" y2="503.04" stroke="#5a5a5a" stroke-width="0.55"/>
<line x1="588.76" y1="490.48" x2="591.16" y2="490.48" stroke="#5a5a5a" stroke-width="0.55"/>
<line x1="588.76" y1="503.04" x2="591.16" y2="503.04" stroke="#5a5a5a" stroke-width="0.55"/>
<rect x="619.87" y="531.16" width="14.63" height="45.05" fill="#a8a8a8" stroke="#9a9a9a" stroke-width="0.5"/>
<line x1="627.19" y1="527.61" x2="627.19" y2="534.70" stroke="#5a5a5a" stroke-width="0.55"/>
<line x1="625.99" y1="527.61" x2="628.39" y2="527.61" stroke="#5a5a5a" stroke-width="0.55"/>
<line x1="625.99" y1="534.70" x2="628.39" y2="534.70" stroke="#5a5a5a" stroke-width="0.55"/>
<g fill="#111"><circle cx="552.50" cy="551.15" r="1.50"/><circle cx="550.45" cy="553.85" r="1.60"/><circle cx="554.55" cy="553.85" r="1.60"/><circle cx="552.50" cy="553.10" r="1.20"/><path d="M552.10,552.70 L552.90,552.70 L553.35,556.50 L551.65,556.50Z"/></g>
<g fill="#111"><circle cx="588.70" cy="484.05" r="1.50"/><circle cx="586.65" cy="486.75" r="1.60"/><circle cx="590.75" cy="486.75" r="1.60"/><circle cx="588.70" cy="486.00" r="1.20"/><path d="M588.30,485.60 L589.10,485.60 L589.55,489.40 L587.85,489.40Z"/></g>
<path d="M626.20,517.70L626.20,524.30M623.34,519.35L629.06,522.65M623.34,522.65L629.06,519.35" stroke="#222" stroke-width="1.15" fill="none"/>
<text x="551.50" y="478.00" font-size="11.6" font-weight="bold" stroke="#000" stroke-width="0.15">miR21</text>
<text x="0" y="0" font-size="9.7" stroke="#111" stroke-width="0.2" text-anchor="middle" fill="#111" transform="translate(475.11,529.70) rotate(-90)">Fold change</text>
<text x="496.90" y="582.50" font-size="7.1" stroke="#111" stroke-width="0.2" fill="#111">Normoxia</text>
<text x="536.50" y="582.50" font-size="7.1" stroke="#111" stroke-width="0.2" fill="#111">Normoxia+</text>
<text x="536.50" y="591.00" font-size="7.1" stroke="#111" stroke-width="0.2" fill="#111">Nimbolide</text>
<text x="579.70" y="583.70" font-size="7.1" stroke="#111" stroke-width="0.2" fill="#111">Hypoxia</text>
<text x="613.70" y="582.50" font-size="7.1" stroke="#111" stroke-width="0.2" fill="#111">Hypoxia+</text>
<text x="613.70" y="591.40" font-size="7.1" stroke="#111" stroke-width="0.2" fill="#111">Nimbolide</text>
<text x="115.50" y="612.40" font-size="11.5" font-weight="bold" stroke="#000" stroke-width="0.15">SCC131</text>
<text x="89.40" y="627.50" font-size="10.6" stroke="#111" stroke-width="0.2" fill="#111">N</text>
<text x="114.60" y="627.50" font-size="10.6" stroke="#111" stroke-width="0.2" fill="#111">N+N</text>
<text x="157.60" y="627.50" font-size="10.6" stroke="#111" stroke-width="0.2" fill="#111">H</text>
<text x="185.10" y="627.50" font-size="10.6" stroke="#111" stroke-width="0.2" fill="#111">H+N</text>
<rect x="66.30" y="634.50" width="138.30" height="21.80" fill="url(#g1)"/>
<svg x="66.30" y="634.50" width="138.30" height="21.80" overflow="hidden">
<rect x="4.20" y="9.40" width="23.00" height="8.60" rx="4.60" ry="4.30" fill="#707070" filter="url(#b3)"/>
<rect x="36.70" y="8.40" width="26.00" height="9.60" rx="5.10" ry="4.80" fill="#6a6a6a" filter="url(#b3)"/>
<rect x="70.70" y="10.40" width="24.00" height="9.20" rx="4.90" ry="4.60" fill="#6c6c6c" filter="url(#b3)"/>
<rect x="102.70" y="5.80" width="28.00" height="14.60" rx="7.60" ry="7.30" fill="#616161" filter="url(#b4)"/>
<rect x="106.20" y="1.30" width="21.00" height="6.90" rx="3.75" ry="3.45" fill="#9a9a9a" filter="url(#b4)"/>
</svg>
<rect x="66.30" y="634.50" width="138.30" height="21.80" fill="none" stroke="#2a2a2a" stroke-width="1.4"/>
<text x="209.40" y="652.72" font-size="10.6" stroke="#111" stroke-width="0.2" fill="#111">RECK</text>
<rect x="66.30" y="659.60" width="138.30" height="21.80" fill="url(#g2)"/>
<svg x="66.30" y="659.60" width="138.30" height="21.80" overflow="hidden">
<rect x="4.70" y="3.70" width="29.00" height="12.90" rx="6.75" ry="6.45" fill="#141414" filter="url(#b3)"/>
<rect x="39.20" y="7.70" width="27.00" height="8.40" rx="4.50" ry="4.20" fill="#1c1c1c" filter="url(#b3)"/>
<rect x="71.20" y="3.20" width="29.00" height="13.40" rx="7.00" ry="6.70" fill="#141414" filter="url(#b3)"/>
<rect x="107.70" y="7.50" width="27.00" height="7.10" rx="3.85" ry="3.55" fill="#262626" filter="url(#b3)"/>
</svg>
<rect x="66.30" y="659.60" width="138.30" height="21.80" fill="none" stroke="#2a2a2a" stroke-width="1.4"/>
<text x="209.40" y="677.82" font-size="10.6" stroke="#111" stroke-width="0.2" fill="#111">MMP-2</text>
<rect x="66.30" y="684.30" width="138.30" height="22.00" fill="url(#g3)"/>
<svg x="66.30" y="684.30" width="138.30" height="22.00" overflow="hidden">
<rect x="7.70" y="7.80" width="26.00" height="8.40" rx="4.50" ry="4.20" fill="#4a4a4a" filter="url(#b3)"/>
<rect x="39.20" y="6.80" width="25.50" height="7.20" rx="3.90" ry="3.60" fill="#4e4e4e" filter="url(#b3)"/>
<rect x="73.70" y="4.60" width="25.50" height="9.00" rx="4.80" ry="4.50" fill="#474747" filter="url(#b3)"/>
<rect x="107.00" y="7.80" width="25.60" height="6.80" rx="3.70" ry="3.40" fill="#4e4e4e" filter="url(#b3)"/>
</svg>
<rect x="66.30" y="684.30" width="138.30" height="22.00" fill="none" stroke="#2a2a2a" stroke-width="1.4"/>
<text x="209.40" y="703.92" font-size="10.6" stroke="#111" stroke-width="0.2" fill="#111">ADAM-10</text>
<rect x="66.30" y="709.30" width="138.30" height="22.20" fill="url(#g4)"/>
<svg x="66.30" y="709.30" width="138.30" height="22.20" overflow="hidden">
<rect x="2.70" y="5.80" width="27.50" height="10.80" rx="5.70" ry="5.40" fill="#2c2c2c" filter="url(#b4)"/>
<rect x="36.00" y="6.80" width="28.70" height="9.80" rx="5.20" ry="4.90" fill="#303030" filter="url(#b4)"/>
<rect x="70.50" y="2.50" width="27.50" height="12.90" rx="6.75" ry="6.45" fill="#262626" filter="url(#b4)"/>
<rect x="106.00" y="9.30" width="24.20" height="6.10" rx="3.35" ry="3.05" fill="#4a4a4a" filter="url(#b3)"/>
</svg>
<rect x="66.30" y="709.30" width="138.30" height="22.20" fill="none" stroke="#2a2a2a" stroke-width="1.4"/>
<text x="209.40" y="728.22" font-size="10.6" stroke="#111" stroke-width="0.2" fill="#111">HIF-1α</text>
<rect x="66.30" y="734.70" width="138.30" height="22.30" fill="url(#g5)"/>
<svg x="66.30" y="734.70" width="138.30" height="22.30" overflow="hidden">
<rect x="2.70" y="6.20" width="28.70" height="11.70" rx="6.15" ry="5.85" fill="#7a7a7a" filter="url(#b4)"/>
<rect x="36.00" y="6.20" width="28.70" height="11.70" rx="6.15" ry="5.85" fill="#7a7a7a" filter="url(#b4)"/>
<rect x="70.50" y="6.20" width="27.50" height="11.70" rx="6.15" ry="5.85" fill="#7c7c7c" filter="url(#b4)"/>
<rect x="103.80" y="6.20" width="29.80" height="11.70" rx="6.15" ry="5.85" fill="#7a7a7a" filter="url(#b4)"/>
</svg>
<rect x="66.30" y="734.70" width="138.30" height="22.30" fill="none" stroke="#2a2a2a" stroke-width="1.4"/>
<text x="208.60" y="750.72" font-size="10.6" stroke="#111" stroke-width="0.2" fill="#111">GAPDH</text>
<text x="338.60" y="614.90" font-size="11.8" font-weight="bold" stroke="#000" stroke-width="0.15">SCC4</text>
<text x="299.80" y="629.80" font-size="10.6" stroke="#111" stroke-width="0.2" fill="#111">N</text>
<text x="325.00" y="629.80" font-size="10.6" stroke="#111" stroke-width="0.2" fill="#111">N+N</text>
<text x="367.90" y="629.80" font-size="10.6" stroke="#111" stroke-width="0.2" fill="#111">H</text>
<text x="396.70" y="629.80" font-size="10.6" stroke="#111" stroke-width="0.2" fill="#111">H+N</text>
<rect x="284.40" y="636.40" width="138.80" height="21.80" fill="url(#g6)"/>
<svg x="284.40" y="636.40" width="138.80" height="21.80" overflow="hidden">
<rect x="6.60" y="6.70" width="21.30" height="7.10" rx="3.85" ry="3.55" fill="#6a6a6a" filter="url(#b2)"/>
<rect x="37.70" y="5.50" width="24.70" height="8.40" rx="4.50" ry="4.20" fill="#555555" filter="url(#b2)"/>
<rect x="73.30" y="7.10" width="21.30" height="7.20" rx="3.90" ry="3.60" fill="#6c6c6c" filter="url(#b2)"/>
<rect x="103.30" y="4.40" width="25.70" height="8.40" rx="4.50" ry="4.20" fill="#555555" filter="url(#b2)"/>
</svg>
<rect x="284.40" y="636.40" width="138.80" height="21.80" fill="none" stroke="#2a2a2a" stroke-width="1.4"/>
<text x="426.50" y="650.02" font-size="10.6" stroke="#111" stroke-width="0.2" fill="#111">RECK</text>
<rect x="283.40" y="660.40" width="138.70" height="21.90" fill="url(#g7)"/>
<svg x="283.40" y="660.40" width="138.70" height="21.90" overflow="hidden">
<rect x="8.70" y="7.50" width="25.80" height="4.70" rx="2.65" ry="2.35" fill="#4a4a4a" filter="url(#b1)"/>
<rect x="42.10" y="7.90" width="19.00" height="3.80" rx="2.20" ry="1.90" fill="#858585" filter="url(#b1)"/>
<rect x="74.30" y="6.40" width="26.80" height="5.30" rx="2.95" ry="2.65" fill="#383838" filter="url(#b1)"/>
<rect x="107.60" y="7.90" width="26.90" height="4.90" rx="2.75" ry="2.45" fill="#505050" filter="url(#b1)"/>
</svg>
<rect x="283.40" y="660.40" width="138.70" height="21.90" fill="none" stroke="#2a2a2a" stroke-width="1.4"/>
<text x="426.50" y="673.82" font-size="10.6" stroke="#111" stroke-width="0.2" fill="#111">MMP-2</text>
<rect x="284.70" y="684.20" width="138.60" height="22.50" fill="url(#g8)"/>
<svg x="284.70" y="684.20" width="138.60" height="22.50" overflow="hidden">
<rect x="6.30" y="9.00" width="30.20" height="6.50" rx="3.55" ry="3.25" fill="#4c4c4c" filter="url(#b2)"/>
<rect x="41.90" y="9.00" width="25.70" height="5.80" rx="3.20" ry="2.90" fill="#585858" filter="url(#b2)"/>
<rect x="74.10" y="10.80" width="24.60" height="6.90" rx="3.75" ry="3.45" fill="#3c3c3c" filter="url(#b2)"/>
<rect x="106.30" y="9.70" width="24.70" height="4.90" rx="2.75" ry="2.45" fill="#686868" filter="url(#b2)"/>
</svg>
<rect x="284.70" y="684.20" width="138.60" height="22.50" fill="none" stroke="#2a2a2a" stroke-width="1.4"/>
<text x="426.50" y="698.42" font-size="10.6" stroke="#111" stroke-width="0.2" fill="#111">MMP-9</text>
<rect x="285.20" y="709.30" width="138.50" height="22.00" fill="url(#g9)"/>
<svg x="285.20" y="709.30" width="138.50" height="22.00" overflow="hidden">
<rect x="9.10" y="9.60" width="26.90" height="4.40" rx="2.50" ry="2.20" fill="#606060" filter="url(#b1)"/>
<rect x="42.50" y="10.30" width="23.50" height="3.70" rx="2.15" ry="1.85" fill="#858585" filter="url(#b1)"/>
<rect x="73.60" y="7.90" width="25.70" height="6.20" rx="3.40" ry="3.10" fill="#3a3a3a" filter="url(#b2)"/>
<rect x="105.80" y="9.60" width="25.80" height="4.40" rx="2.50" ry="2.20" fill="#585858" filter="url(#b1)"/>
</svg>
<rect x="285.20" y="709.30" width="138.50" height="22.00" fill="none" stroke="#2a2a2a" stroke-width="1.4"/>
<text x="426.50" y="723.42" font-size="10.6" stroke="#111" stroke-width="0.2" fill="#111">HIF-1α</text>
<rect x="285.20" y="734.20" width="138.50" height="22.10" fill="url(#g10)"/>
<svg x="285.20" y="734.20" width="138.50" height="22.10" overflow="hidden">
<rect x="3.60" y="7.40" width="29.10" height="7.30" rx="3.95" ry="3.65" fill="#3e3e3e" filter="url(#b2)"/>
<rect x="36.90" y="7.40" width="29.10" height="7.30" rx="3.95" ry="3.65" fill="#3e3e3e" filter="url(#b2)"/>
<rect x="70.30" y="7.40" width="29.00" height="7.30" rx="3.95" ry="3.65" fill="#3e3e3e" filter="url(#b2)"/>
<rect x="103.60" y="7.40" width="28.00" height="7.30" rx="3.95" ry="3.65" fill="#404040" filter="url(#b2)"/>
</svg>
<rect x="285.20" y="734.20" width="138.50" height="22.10" fill="none" stroke="#2a2a2a" stroke-width="1.4"/>
<text x="427.30" y="748.62" font-size="10.6" stroke="#111" stroke-width="0.2" fill="#111">GAPDH</text>
<text x="541.50" y="612.90" font-size="11.8" font-weight="bold" stroke="#000" stroke-width="0.15">EAhy926</text>
<text x="502.90" y="630.40" font-size="10.6" stroke="#111" stroke-width="0.2" fill="#111">N</text>
<text x="528.10" y="630.40" font-size="10.6" stroke="#111" stroke-width="0.2" fill="#111">N+N</text>
<text x="571.10" y="630.40" font-size="10.6" stroke="#111" stroke-width="0.2" fill="#111">H</text>
<text x="599.20" y="630.40" font-size="10.6" stroke="#111" stroke-width="0.2" fill="#111">H+N</text>
<rect x="490.90" y="636.00" width="137.90" height="21.80" fill="url(#g11)"/>
<svg x="490.90" y="636.00" width="137.90" height="21.80" overflow="hidden">
<rect x="5.10" y="7.70" width="23.50" height="6.40" rx="3.50" ry="3.20" fill="#5e5e5e" filter="url(#b2)"/>
<rect x="36.20" y="6.80" width="29.10" height="6.90" rx="3.75" ry="3.45" fill="#4a4a4a" filter="url(#b2)"/>
<rect x="72.90" y="7.20" width="25.70" height="5.80" rx="3.20" ry="2.90" fill="#5a5a5a" filter="url(#b2)"/>
<rect x="106.20" y="6.10" width="26.90" height="6.90" rx="3.75" ry="3.45" fill="#464646" filter="url(#b2)"/>
</svg>
<rect x="490.90" y="636.00" width="137.90" height="21.80" fill="none" stroke="#2a2a2a" stroke-width="1.4"/>
<text x="633.80" y="652.52" font-size="10.6" stroke="#111" stroke-width="0.2" fill="#111">RECK</text>
<rect x="489.80" y="660.40" width="138.30" height="21.60" fill="url(#g12)"/>
<svg x="489.80" y="660.40" width="138.30" height="21.60" overflow="hidden">
<rect x="7.30" y="8.50" width="24.70" height="4.40" rx="2.50" ry="2.20" fill="#5e5e5e" filter="url(#b1)"/>
<rect x="39.50" y="9.00" width="23.60" height="3.90" rx="2.25" ry="1.95" fill="#959595" filter="url(#b1)"/>
<rect x="71.80" y="7.80" width="25.70" height="5.10" rx="2.85" ry="2.55" fill="#555555" filter="url(#b1)"/>
<rect x="104.00" y="9.00" width="24.60" height="3.90" rx="2.25" ry="1.95" fill="#727272" filter="url(#b1)"/>
</svg>
<rect x="489.80" y="660.40" width="138.30" height="21.60" fill="none" stroke="#2a2a2a" stroke-width="1.4"/>
<text x="632.50" y="675.42" font-size="10.6" stroke="#111" stroke-width="0.2" fill="#111">MMP-2</text>
<rect x="490.90" y="684.40" width="137.90" height="22.00" fill="url(#g13)"/>
<svg x="490.90" y="684.40" width="137.90" height="22.00" overflow="hidden">
<rect x="5.10" y="7.70" width="31.30" height="8.00" rx="4.30" ry="4.00" fill="#3e3e3e" filter="url(#b2)"/>
<rect x="39.60" y="8.80" width="26.80" height="6.50" rx="3.55" ry="3.25" fill="#464646" filter="url(#b2)"/>
<rect x="70.70" y="6.20" width="30.20" height="8.40" rx="4.50" ry="4.20" fill="#3a3a3a" filter="url(#b2)"/>
<rect x="105.10" y="7.90" width="28.00" height="7.00" rx="3.80" ry="3.50" fill="#464646" filter="url(#b2)"/>
</svg>
<rect x="490.90" y="684.40" width="137.90" height="22.00" fill="none" stroke="#2a2a2a" stroke-width="1.4"/>
<text x="633.80" y="699.32" font-size="10.6" stroke="#111" stroke-width="0.2" fill="#111">MMP-9</text>
<rect x="491.00" y="731.00" width="138.40" height="3.40" fill="#6a6a6a"/>
<rect x="491.00" y="709.60" width="138.20" height="21.90" fill="url(#g14)"/>
<svg x="491.00" y="709.60" width="138.20" height="21.90" overflow="hidden">
<rect x="6.10" y="10.10" width="25.80" height="4.20" rx="2.40" ry="2.10" fill="#5a5a5a" filter="url(#b1)"/>
<rect x="39.50" y="10.50" width="25.70" height="4.00" rx="2.30" ry="2.00" fill="#767676" filter="url(#b1)"/>
<rect x="72.80" y="7.90" width="25.70" height="6.60" rx="3.60" ry="3.30" fill="#3c3c3c" filter="url(#b2)"/>
<rect x="106.10" y="10.50" width="26.90" height="3.80" rx="2.20" ry="1.90" fill="#626262" filter="url(#b1)"/>
</svg>
<rect x="491.00" y="709.60" width="138.20" height="21.90" fill="none" stroke="#2a2a2a" stroke-width="1.4"/>
<text x="634.50" y="723.92" font-size="10.6" stroke="#111" stroke-width="0.2" fill="#111">HIF-1α</text>
<rect x="491.50" y="733.30" width="138.20" height="22.60" fill="url(#g15)"/>
<svg x="491.50" y="733.30" width="138.20" height="22.60" overflow="hidden">
<rect x="5.60" y="8.40" width="28.00" height="7.30" rx="3.95" ry="3.65" fill="#5a5a5a" filter="url(#b2)"/>
<rect x="39.00" y="8.40" width="27.90" height="7.30" rx="3.95" ry="3.65" fill="#5a5a5a" filter="url(#b2)"/>
<rect x="72.30" y="8.40" width="27.50" height="7.30" rx="3.95" ry="3.65" fill="#5a5a5a" filter="url(#b2)"/>
<rect x="105.60" y="8.40" width="28.00" height="7.30" rx="3.95" ry="3.65" fill="#5a5a5a" filter="url(#b2)"/>
</svg>
<rect x="491.50" y="733.30" width="138.20" height="22.60" fill="none" stroke="#2a2a2a" stroke-width="1.4"/>
<text x="635.30" y="748.62" font-size="10.6" stroke="#111" stroke-width="0.2" fill="#111">GAPDH</text>
</svg>
</body></html>
